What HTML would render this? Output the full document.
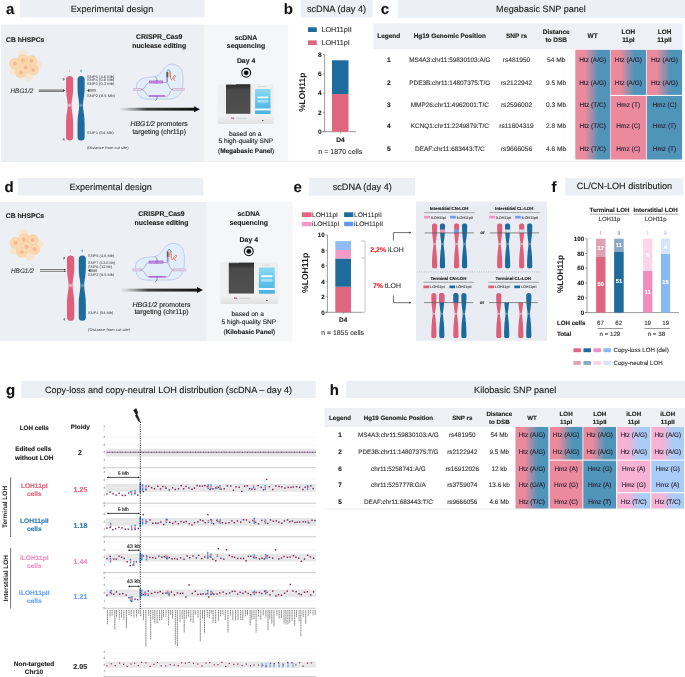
<!DOCTYPE html><html><head><meta charset="utf-8"><style>html,body{margin:0;padding:0;background:#fff;}body{width:685px;height:677px;overflow:hidden;font-family:"Liberation Sans", sans-serif;}svg{display:block;will-change:transform;}svg text{font-family:"Liberation Sans", sans-serif;}</style></head><body><svg width="685" height="677" viewBox="0 0 685 677" font-family='"Liberation Sans", sans-serif' text-rendering="geometricPrecision"><defs><linearGradient id="ga1" x1="0" x2="1" y1="0" y2="0"><stop offset="0" stop-color="#555" stop-opacity="0.05"/><stop offset="0.35" stop-color="#222" stop-opacity="0.85"/><stop offset="1" stop-color="#111"/></linearGradient><linearGradient id="mb1" x1="0" x2="0" y1="0" y2="1"><stop offset="0" stop-color="#eeeeee"/><stop offset="0.8" stop-color="#f1f1f1"/><stop offset="1" stop-color="#e0e0e0"/></linearGradient><linearGradient id="mt1" x1="0" x2="0" y1="0" y2="1"><stop offset="0" stop-color="#8ddaf4"/><stop offset="0.5" stop-color="#62c4ea"/><stop offset="1" stop-color="#48b2e0"/></linearGradient><linearGradient id="ms1" x1="0" x2="0" y1="0" y2="1"><stop offset="0" stop-color="#2c2c2c"/><stop offset="0.12" stop-color="#3a3a3a"/><stop offset="0.2" stop-color="#4b4b4b"/><stop offset="1" stop-color="#4f4f4f"/></linearGradient><linearGradient id="gc" x1="0" x2="1" y1="0" y2="0"><stop offset="0.28" stop-color="#ea8a9c"/><stop offset="0.68" stop-color="#4f94b9"/></linearGradient><linearGradient id="ga2" x1="0" x2="1" y1="0" y2="0"><stop offset="0" stop-color="#555" stop-opacity="0.05"/><stop offset="0.35" stop-color="#222" stop-opacity="0.85"/><stop offset="1" stop-color="#111"/></linearGradient><linearGradient id="mb2" x1="0" x2="0" y1="0" y2="1"><stop offset="0" stop-color="#eeeeee"/><stop offset="0.8" stop-color="#f1f1f1"/><stop offset="1" stop-color="#e0e0e0"/></linearGradient><linearGradient id="mt2" x1="0" x2="0" y1="0" y2="1"><stop offset="0" stop-color="#8ddaf4"/><stop offset="0.5" stop-color="#62c4ea"/><stop offset="1" stop-color="#48b2e0"/></linearGradient><linearGradient id="ms2" x1="0" x2="0" y1="0" y2="1"><stop offset="0" stop-color="#2c2c2c"/><stop offset="0.12" stop-color="#3a3a3a"/><stop offset="0.2" stop-color="#4b4b4b"/><stop offset="1" stop-color="#4f4f4f"/></linearGradient><clipPath id="cc1"><path d="M432.0,225.8 A2.6,2.6 0 0 1 437.20000000000005,225.8 C437.20000000000005,236.72 435.744,241.504 435.744,244.0 C435.744,246.952 437.20000000000005,252.61 437.20000000000005,266.0 A2.6,2.6 0 0 1 432.0,266.0 C432.0,252.61 433.456,246.952 433.456,244.0 C433.456,241.504 432.0,236.72 432.0,225.8 Z"/></clipPath><clipPath id="cc2"><path d="M439.9,225.8 A2.6,2.6 0 0 1 445.1,225.8 C445.1,236.72 443.644,241.504 443.644,244.0 C443.644,246.952 445.1,252.61 445.1,266.0 A2.6,2.6 0 0 1 439.9,266.0 C439.9,252.61 441.356,246.952 441.356,244.0 C441.356,241.504 439.9,236.72 439.9,225.8 Z"/></clipPath><clipPath id="cc3"><path d="M454.0,225.8 A2.6,2.6 0 0 1 459.20000000000005,225.8 C459.20000000000005,236.72 457.744,241.504 457.744,244.0 C457.744,246.952 459.20000000000005,252.61 459.20000000000005,266.0 A2.6,2.6 0 0 1 454.0,266.0 C454.0,252.61 455.456,246.952 455.456,244.0 C455.456,241.504 454.0,236.72 454.0,225.8 Z"/></clipPath><clipPath id="cc4"><path d="M462.0,225.8 A2.6,2.6 0 0 1 467.20000000000005,225.8 C467.20000000000005,236.72 465.744,241.504 465.744,244.0 C465.744,246.952 467.20000000000005,252.61 467.20000000000005,266.0 A2.6,2.6 0 0 1 462.0,266.0 C462.0,252.61 463.456,246.952 463.456,244.0 C463.456,241.504 462.0,236.72 462.0,225.8 Z"/></clipPath><clipPath id="cc5"><path d="M497.09999999999997,225.8 A2.6,2.6 0 0 1 502.3,225.8 C502.3,236.72 500.844,241.504 500.844,244.0 C500.844,246.952 502.3,252.61 502.3,266.0 A2.6,2.6 0 0 1 497.09999999999997,266.0 C497.09999999999997,252.61 498.556,246.952 498.556,244.0 C498.556,241.504 497.09999999999997,236.72 497.09999999999997,225.8 Z"/></clipPath><clipPath id="cc6"><path d="M504.99999999999994,225.8 A2.6,2.6 0 0 1 510.2,225.8 C510.2,236.72 508.74399999999997,241.504 508.74399999999997,244.0 C508.74399999999997,246.952 510.2,252.61 510.2,266.0 A2.6,2.6 0 0 1 504.99999999999994,266.0 C504.99999999999994,252.61 506.45599999999996,246.952 506.45599999999996,244.0 C506.45599999999996,241.504 504.99999999999994,236.72 504.99999999999994,225.8 Z"/></clipPath><clipPath id="cc7"><path d="M519.1,225.8 A2.6,2.6 0 0 1 524.3000000000001,225.8 C524.3000000000001,236.72 522.844,241.504 522.844,244.0 C522.844,246.952 524.3000000000001,252.61 524.3000000000001,266.0 A2.6,2.6 0 0 1 519.1,266.0 C519.1,252.61 520.556,246.952 520.556,244.0 C520.556,241.504 519.1,236.72 519.1,225.8 Z"/></clipPath><clipPath id="cc8"><path d="M527.1,225.8 A2.6,2.6 0 0 1 532.3000000000001,225.8 C532.3000000000001,236.72 530.844,241.504 530.844,244.0 C530.844,246.952 532.3000000000001,252.61 532.3000000000001,266.0 A2.6,2.6 0 0 1 527.1,266.0 C527.1,252.61 528.556,246.952 528.556,244.0 C528.556,241.504 527.1,236.72 527.1,225.8 Z"/></clipPath><clipPath id="cc9"><path d="M431.29999999999995,295.5 A2.6,2.6 0 0 1 436.5,295.5 C436.5,306.41999999999996 435.044,311.204 435.044,313.7 C435.044,316.652 436.5,322.31 436.5,335.7 A2.6,2.6 0 0 1 431.29999999999995,335.7 C431.29999999999995,322.31 432.756,316.652 432.756,313.7 C432.756,311.204 431.29999999999995,306.41999999999996 431.29999999999995,295.5 Z"/></clipPath><clipPath id="cc10"><path d="M439.19999999999993,295.5 A2.6,2.6 0 0 1 444.4,295.5 C444.4,306.41999999999996 442.94399999999996,311.204 442.94399999999996,313.7 C442.94399999999996,316.652 444.4,322.31 444.4,335.7 A2.6,2.6 0 0 1 439.19999999999993,335.7 C439.19999999999993,322.31 440.65599999999995,316.652 440.65599999999995,313.7 C440.65599999999995,311.204 439.19999999999993,306.41999999999996 439.19999999999993,295.5 Z"/></clipPath><clipPath id="cc11"><path d="M453.29999999999995,295.5 A2.6,2.6 0 0 1 458.5,295.5 C458.5,306.41999999999996 457.044,311.204 457.044,313.7 C457.044,316.652 458.5,322.31 458.5,335.7 A2.6,2.6 0 0 1 453.29999999999995,335.7 C453.29999999999995,322.31 454.756,316.652 454.756,313.7 C454.756,311.204 453.29999999999995,306.41999999999996 453.29999999999995,295.5 Z"/></clipPath><clipPath id="cc12"><path d="M461.29999999999995,295.5 A2.6,2.6 0 0 1 466.5,295.5 C466.5,306.41999999999996 465.044,311.204 465.044,313.7 C465.044,316.652 466.5,322.31 466.5,335.7 A2.6,2.6 0 0 1 461.29999999999995,335.7 C461.29999999999995,322.31 462.756,316.652 462.756,313.7 C462.756,311.204 461.29999999999995,306.41999999999996 461.29999999999995,295.5 Z"/></clipPath><clipPath id="cc13"><path d="M496.2,295.5 A2.6,2.6 0 0 1 501.40000000000003,295.5 C501.40000000000003,306.41999999999996 499.944,311.204 499.944,313.7 C499.944,316.652 501.40000000000003,322.31 501.40000000000003,335.7 A2.6,2.6 0 0 1 496.2,335.7 C496.2,322.31 497.656,316.652 497.656,313.7 C497.656,311.204 496.2,306.41999999999996 496.2,295.5 Z"/></clipPath><clipPath id="cc14"><path d="M504.09999999999997,295.5 A2.6,2.6 0 0 1 509.3,295.5 C509.3,306.41999999999996 507.844,311.204 507.844,313.7 C507.844,316.652 509.3,322.31 509.3,335.7 A2.6,2.6 0 0 1 504.09999999999997,335.7 C504.09999999999997,322.31 505.556,316.652 505.556,313.7 C505.556,311.204 504.09999999999997,306.41999999999996 504.09999999999997,295.5 Z"/></clipPath><clipPath id="cc15"><path d="M518.1999999999999,295.5 A2.6,2.6 0 0 1 523.4,295.5 C523.4,306.41999999999996 521.944,311.204 521.944,313.7 C521.944,316.652 523.4,322.31 523.4,335.7 A2.6,2.6 0 0 1 518.1999999999999,335.7 C518.1999999999999,322.31 519.656,316.652 519.656,313.7 C519.656,311.204 518.1999999999999,306.41999999999996 518.1999999999999,295.5 Z"/></clipPath><clipPath id="cc16"><path d="M526.1999999999999,295.5 A2.6,2.6 0 0 1 531.4,295.5 C531.4,306.41999999999996 529.944,311.204 529.944,313.7 C529.944,316.652 531.4,322.31 531.4,335.7 A2.6,2.6 0 0 1 526.1999999999999,335.7 C526.1999999999999,322.31 527.656,316.652 527.656,313.7 C527.656,311.204 526.1999999999999,306.41999999999996 526.1999999999999,295.5 Z"/></clipPath><linearGradient id="gh" x1="0" x2="1" y1="0" y2="0"><stop offset="0.3" stop-color="#f8b2d4"/><stop offset="0.68" stop-color="#a9cdf6"/></linearGradient></defs><text x="6" y="14" font-size="15" font-weight="bold" text-anchor="start" fill="#111" stroke="#111" stroke-width="0.12" >a</text>
<rect x="20" y="0" width="184.5" height="17.5" fill="#eceff4" />
<text x="112" y="12" font-size="9.1" font-weight="normal" text-anchor="middle" fill="#1c1c1c" stroke="#1c1c1c" stroke-width="0.12" >Experimental design</text>
<rect x="1" y="24.5" width="203" height="137" fill="#eceff4" />
<rect x="204" y="24.5" width="84.4" height="136" fill="#f5f6f8" />
<text x="6.1" y="42.2" font-size="6.75" font-weight="bold" text-anchor="start" fill="#1c1c1c" stroke="#1c1c1c" stroke-width="0.12" >CB hHSPCs</text>
<circle cx="22.7" cy="54.9" r="5.0" fill="#f6e6d0"/>
<circle cx="37.8" cy="64.8" r="4.3" fill="#f6e6d0"/>
<circle cx="13.9" cy="71.1" r="4.4" fill="#f6e6d0"/>
<circle cx="28.3" cy="76.2" r="4.8" fill="#f6e6d0"/>
<circle cx="14.9" cy="63.599999999999994" r="5.3" fill="#fbd8ad" stroke="#f3c898" stroke-width="0.5"/>
<circle cx="14.9" cy="63.599999999999994" r="2.0" fill="#f4b996"/>
<circle cx="22.9" cy="60.199999999999996" r="5.3" fill="#fbd8ad" stroke="#f3c898" stroke-width="0.5"/>
<circle cx="22.9" cy="60.199999999999996" r="2.0" fill="#f4b996"/>
<circle cx="31.5" cy="60.8" r="5.2" fill="#fbd8ad" stroke="#f3c898" stroke-width="0.5"/>
<circle cx="31.5" cy="60.8" r="2.0" fill="#f4b996"/>
<circle cx="33.3" cy="69.89999999999999" r="5.1" fill="#fbd8ad" stroke="#f3c898" stroke-width="0.5"/>
<circle cx="33.3" cy="69.89999999999999" r="2.0" fill="#f4b996"/>
<circle cx="20.8" cy="72.5" r="5.2" fill="#fbd8ad" stroke="#f3c898" stroke-width="0.5"/>
<circle cx="20.8" cy="72.5" r="2.0" fill="#f4b996"/>
<circle cx="25.6" cy="67.5" r="5.3" fill="#fbd8ad" stroke="#f3c898" stroke-width="0.5"/>
<circle cx="25.6" cy="67.5" r="2.0" fill="#f4b996"/>
<text x="10.5" y="93.1" font-size="6.4" font-weight="normal" text-anchor="start" fill="#3a3a3a" stroke="#3a3a3a" stroke-width="0.12" font-style="italic" >HBG1/2</text>
<rect x="38.8" y="89.2" width="24.8" height="2.7" fill="#a2a2a2" />
<line x1="38.8" y1="91.3" x2="63.6" y2="91.3" stroke="#6a6a6a" stroke-width="0.9" />
<path d="M63.2,89.0 L65,90.5 L63.2,92.1 Z" fill="#333"/>
<path d="M66.05,79.55 A3.55,3.55 0 0 1 73.14999999999999,79.55 L73.14999999999999,87.096 C73.14999999999999,97.0532 71.517,99.7688 71.517,105.2 C71.517,111.0245 73.14999999999999,113.93675 73.14999999999999,124.61500000000001 L73.14999999999999,136.95 A3.55,3.55 0 0 1 66.05,136.95 L66.05,124.61500000000001 C66.05,113.93675 67.68299999999999,111.0245 67.68299999999999,105.2 C67.68299999999999,99.7688 66.05,97.0532 66.05,87.096 L66.05,79.55 Z" fill="#e0607c"/>
<circle cx="69.6" cy="105.2" r="1.704" fill="#f3a9b8"/>
<path d="M77.55,79.55 A3.55,3.55 0 0 1 84.64999999999999,79.55 L84.64999999999999,87.096 C84.64999999999999,97.0532 83.017,99.7688 83.017,105.2 C83.017,111.0245 84.64999999999999,113.93675 84.64999999999999,124.61500000000001 L84.64999999999999,136.95 A3.55,3.55 0 0 1 77.55,136.95 L77.55,124.61500000000001 C77.55,113.93675 79.18299999999999,111.0245 79.18299999999999,105.2 C79.18299999999999,99.7688 77.55,97.0532 77.55,87.096 L77.55,79.55 Z" fill="#1e6c9e"/>
<circle cx="81.1" cy="105.2" r="1.704" fill="#4f9cc8"/>
<text x="69.6" y="72" font-size="3.2" font-weight="normal" text-anchor="middle" fill="#e87a90" stroke="#e87a90" stroke-width="0.12" >I</text>
<text x="81.1" y="72" font-size="3.2" font-weight="normal" text-anchor="middle" fill="#4a90c0" stroke="#4a90c0" stroke-width="0.12" >II</text>
<text x="62.8" y="79.5" font-size="3" font-weight="normal" text-anchor="start" fill="#444" stroke="#444" stroke-width="0.12" >p</text>
<text x="62.8" y="139.5" font-size="3" font-weight="normal" text-anchor="start" fill="#444" stroke="#444" stroke-width="0.12" >q</text>
<text x="87" y="78.0" font-size="3.7" font-weight="normal" fill="#383838" textLength="27.5" lengthAdjust="spacingAndGlyphs">SNP5 (4.6 Mb)</text>
<text x="87" y="81.4" font-size="3.7" font-weight="normal" fill="#383838" textLength="27.5" lengthAdjust="spacingAndGlyphs">SNP4 (0.6 Mb)</text>
<text x="87" y="84.8" font-size="3.7" font-weight="normal" fill="#383838" textLength="27.5" lengthAdjust="spacingAndGlyphs">SNP3 (0.3 Mb)</text>
<path d="M96,89.8 L88.5,89.8 M96,91.0 L88.5,91.0" stroke="#666" stroke-width="0.7"/>
<path d="M89.2,88.9 L87.2,90.4 L89.2,91.9 Z" fill="#333"/>
<text x="87" y="96.8" font-size="3.7" font-weight="normal" fill="#383838" textLength="28" lengthAdjust="spacingAndGlyphs">SNP2 (9.5 Mb)</text>
<text x="87" y="133.8" font-size="3.7" font-weight="normal" fill="#383838" textLength="26.7" lengthAdjust="spacingAndGlyphs">SNP1 (54 Mb)</text>
<text x="87" y="149.3" font-size="3.7" font-weight="normal" fill="#383838" textLength="41.7" lengthAdjust="spacingAndGlyphs">(Distance from cut site)</text>
<text x="159.2" y="39" font-size="6.9" font-weight="bold" text-anchor="middle" fill="#1c1c1c" stroke="#1c1c1c" stroke-width="0.12" >CRISPR_Cas9</text>
<text x="159.2" y="48.2" font-size="6.9" font-weight="bold" text-anchor="middle" fill="#1c1c1c" stroke="#1c1c1c" stroke-width="0.12" >nuclease editing</text>
<path d="M136.50,88.00 C135.50,80.00 143.00,77.50 150.00,77.20 C157.00,77.00 160.00,75.00 163.00,70.00 C166.50,64.50 171.00,63.50 175.00,64.50 C181.00,66.00 183.50,72.00 183.00,80.00 C183.00,90.00 182.00,98.00 170.00,99.00 L148.00,99.20 C139.00,99.00 137.00,94.00 136.50,88.00 Z" fill="#e1edf9" stroke="#8ea8dc" stroke-width="0.45"/>
<rect x="133.2" y="88.0" width="8.5" height="2.8" fill="#d2bcd8"/>
<rect x="133.2" y="89.0" width="8.5" height="0.8" fill="#e6dbe9"/>
<rect x="172.5" y="88.0" width="12.3" height="2.8" fill="#d2bcd8"/>
<rect x="172.5" y="89.0" width="12.3" height="0.8" fill="#e6dbe9"/>
<path d="M141.00,89.40 C146.00,89.40 145.00,82.50 150.00,82.50 L166.00,82.50" fill="none" stroke="#9a72b8" stroke-width="0.5"/>
<path d="M141.00,89.40 C146.00,89.40 145.00,96.20 150.00,96.20 L166.00,96.20 C171.00,96.20 169.00,89.40 173.00,89.40" fill="none" stroke="#9a72b8" stroke-width="0.5"/>
<path d="M166.00,82.50 C169.00,82.50 168.50,89.40 173.00,89.40" fill="none" stroke="#9a72b8" stroke-width="0.5"/>
<rect x="149.0" y="80.6" width="14.0" height="2.8" fill="#a86ad8"/>
<rect x="150.0" y="81.6" width="12.0" height="0.8" fill="#cfa8ec"/>
<rect x="155.5" y="80.6" width="2.5" height="2.8" fill="#c070c8"/>
<rect x="149.0" y="95.2" width="16.0" height="1.5" fill="#a86ad8"/>
<rect x="162.0" y="95.3" width="3.0" height="1.2" fill="#e070d0"/>
<path d="M166.60,72.20 L168.50,69.60 L170.60,72.20" fill="#f4f8fc" stroke="#4a7fc0" stroke-width="0.80"/>
<rect x="166.30" y="72.00" width="1.80" height="5.20" fill="#5a5a5a"/>
<rect x="168.10" y="72.00" width="1.60" height="5.20" fill="#e8a896"/>
<rect x="166.40" y="77.00" width="1.60" height="5.50" fill="#a484e4"/>
<path d="M170.30,72.20 L170.60,78.50 C170.80,80.60 172.00,80.00 173.00,77.50 C173.80,75.60 175.80,74.60 175.60,76.40 C175.40,78.00 173.20,78.20 173.60,79.20 L174.80,80.60" fill="none" stroke="#e8734a" stroke-width="0.90" stroke-linecap="round"/>
<path d="M155.00,76.50 L157.00,79.00 L157.00,81.00" fill="none" stroke="#333" stroke-width="0.4"/>
<path d="M157.00,96.00 L157.00,99.00 L155.00,101.00" fill="none" stroke="#333" stroke-width="0.4"/>
<rect x="120" y="107.75" width="75" height="2.9" fill="url(#ga1)"/>
<path d="M194,106.2 L200,109.2 L194,112.2 Z" fill="#111"/>
<text x="159.1" y="125.6" font-size="6.85" font-weight="normal" text-anchor="middle" fill="#1c1c1c" stroke="#1c1c1c" stroke-width="0.12" ><tspan font-style="italic">HBG1/2</tspan> promoters</text>
<text x="159.2" y="134.1" font-size="6.85" font-weight="normal" text-anchor="middle" fill="#1c1c1c" stroke="#1c1c1c" stroke-width="0.12" >targeting (chr11p)</text>
<text x="246.0" y="39.5" font-size="6.9" font-weight="bold" text-anchor="middle" fill="#1c1c1c" stroke="#1c1c1c" stroke-width="0.12" >scDNA</text>
<text x="246.0" y="48.1" font-size="6.9" font-weight="bold" text-anchor="middle" fill="#1c1c1c" stroke="#1c1c1c" stroke-width="0.12" >sequencing</text>
<text x="246.1" y="62.8" font-size="6.9" font-weight="bold" text-anchor="middle" fill="#1c1c1c" stroke="#1c1c1c" stroke-width="0.12" >Day 4</text>
<circle cx="246.2" cy="72.8" r="4.4" fill="none" stroke="#111" stroke-width="1.1"/>
<circle cx="246.2" cy="72.8" r="2.4" fill="#111"/>
<rect x="217.7" y="84.2" width="56.1" height="39.7" rx="1.6" fill="url(#mb1)"/>
<rect x="226.0" y="84.2" width="24.400000000000006" height="29.599999999999994" fill="url(#ms1)"/>
<rect x="226.0" y="84.2" width="10.0" height="0.5" fill="#f4f4f4"/>
<rect x="255.1" y="88.9" width="15.400000000000006" height="25.19999999999999" rx="0.6" fill="url(#mt1)"/>
<rect x="257.2" y="96.4" width="11.199999999999989" height="1.7999999999999972" rx="0.8" fill="#f4fafd"/>
<rect x="257.2" y="100.0" width="11.199999999999989" height="2.4000000000000057" rx="0.8" fill="#a9e0f5"/>
<rect x="255.1" y="108.5" width="15.400000000000006" height="1.9000000000000057" fill="#f6fbfe"/>
<circle cx="231.9" cy="118.1" r="0.9" fill="#e0505e"/>
<circle cx="233.6" cy="118.4" r="0.8" fill="#4a90d0"/>
<rect x="236.3" y="117.9" width="11.0" height="0.7" fill="#c2c2c2"/>
<rect x="262.0" y="119.9" width="1.6" height="1.0" rx="0.4" fill="#444"/>
<circle cx="258.7" cy="86.6" r="0.35" fill="#50b070"/>
<rect x="259.5" y="86.3" width="6.0" height="0.5" fill="#c8c8c8"/>
<text x="245.2" y="135.7" font-size="6.6" font-weight="normal" text-anchor="middle" fill="#1c1c1c" stroke="#1c1c1c" stroke-width="0.12" >based on a</text>
<text x="245.8" y="143.4" font-size="6.6" font-weight="normal" text-anchor="middle" fill="#1c1c1c" stroke="#1c1c1c" stroke-width="0.12" >5 high-quality SNP</text>
<text x="246.1" y="153.3" font-size="6.45" font-weight="normal" text-anchor="middle" fill="#1c1c1c" stroke="#1c1c1c" stroke-width="0.12" >(<tspan font-weight="bold">Megabasic Panel</tspan>)</text>
<text x="283.8" y="14" font-size="15" font-weight="bold" text-anchor="start" fill="#111" stroke="#111" stroke-width="0.12" >b</text>
<rect x="300.5" y="0" width="72" height="17.5" fill="#eceff4" />
<text x="336.5" y="11.8" font-size="9.2" font-weight="normal" text-anchor="middle" fill="#1c1c1c" stroke="#1c1c1c" stroke-width="0.12" >scDNA (day 4)</text>
<line x1="0" y1="161.3" x2="685" y2="161.3" stroke="#ebebeb" stroke-width="0.9" />
<rect x="308" y="27.3" width="8.8" height="4.7" fill="#1f6b9c" />
<text x="321.5" y="32" font-size="7.2" font-weight="normal" text-anchor="start" fill="#333" stroke="#333" stroke-width="0.12" >LOH11pII</text>
<rect x="308" y="40.4" width="8.8" height="4.7" fill="#e0657f" />
<text x="321.5" y="45.1" font-size="7.2" font-weight="normal" text-anchor="start" fill="#333" stroke="#333" stroke-width="0.12" >LOH11pI</text>
<line x1="324.6" y1="54.6" x2="324.6" y2="131.7" stroke="#555" stroke-width="0.6" />
<line x1="322.3" y1="131.7" x2="356" y2="131.7" stroke="#555" stroke-width="0.6" />
<line x1="322.8" y1="131.7" x2="324.6" y2="131.7" stroke="#555" stroke-width="0.5" />
<text x="321.5" y="134.0" font-size="6.5" font-weight="bold" text-anchor="end" fill="#222" stroke="#222" stroke-width="0.12" >0</text>
<line x1="322.8" y1="112.39999999999999" x2="324.6" y2="112.39999999999999" stroke="#555" stroke-width="0.5" />
<text x="321.5" y="114.69999999999999" font-size="6.5" font-weight="bold" text-anchor="end" fill="#222" stroke="#222" stroke-width="0.12" >2</text>
<line x1="322.8" y1="93.1" x2="324.6" y2="93.1" stroke="#555" stroke-width="0.5" />
<text x="321.5" y="95.39999999999999" font-size="6.5" font-weight="bold" text-anchor="end" fill="#222" stroke="#222" stroke-width="0.12" >4</text>
<line x1="322.8" y1="73.79999999999998" x2="324.6" y2="73.79999999999998" stroke="#555" stroke-width="0.5" />
<text x="321.5" y="76.09999999999998" font-size="6.5" font-weight="bold" text-anchor="end" fill="#222" stroke="#222" stroke-width="0.12" >6</text>
<line x1="322.8" y1="54.499999999999986" x2="324.6" y2="54.499999999999986" stroke="#555" stroke-width="0.5" />
<text x="321.5" y="56.79999999999998" font-size="6.5" font-weight="bold" text-anchor="end" fill="#222" stroke="#222" stroke-width="0.12" >8</text>
<line x1="340.3" y1="131.7" x2="340.3" y2="133.5" stroke="#555" stroke-width="0.5" />
<rect x="332" y="94.065" width="16.5" height="37.635" fill="#e0657f" />
<rect x="332" y="60.28999999999998" width="16.5" height="33.775" fill="#1f6b9c" />
<text x="340.4" y="142" font-size="6.6" font-weight="bold" text-anchor="middle" fill="#222" stroke="#222" stroke-width="0.12" >D4</text>
<text x="340.3" y="153.8" font-size="7.1" font-weight="normal" text-anchor="middle" fill="#333" stroke="#333" stroke-width="0.12" >n = 1870 cells</text>
<text transform="translate(304.5,92.3) rotate(-90)" font-size="8.4" font-weight="bold" text-anchor="middle" fill="#222">%LOH11p</text>
<text x="380.8" y="14" font-size="15" font-weight="bold" text-anchor="start" fill="#111" stroke="#111" stroke-width="0.12" >c</text>
<rect x="397.8" y="0" width="287.2" height="18" fill="#eceff4" />
<text x="541" y="12" font-size="9.1" font-weight="normal" text-anchor="middle" fill="#1c1c1c" stroke="#1c1c1c" stroke-width="0.12" >Megabasic SNP panel</text>
<rect x="373.3" y="23.4" width="309.5" height="25.8" fill="#eef0f5" />
<text x="388.8" y="37.8" font-size="6.45" font-weight="bold" text-anchor="middle" fill="#222" stroke="#222" stroke-width="0.12" >Legend</text>
<text x="449.8" y="37.8" font-size="6.45" font-weight="bold" text-anchor="middle" fill="#222" stroke="#222" stroke-width="0.12" >Hg19 Genomic Position</text>
<text x="516.5" y="37.8" font-size="6.45" font-weight="bold" text-anchor="middle" fill="#222" stroke="#222" stroke-width="0.12" >SNP rs</text>
<text x="556.2" y="34.2" font-size="6.45" font-weight="bold" text-anchor="middle" fill="#222" stroke="#222" stroke-width="0.12" >Distance</text>
<text x="556.2" y="41.9" font-size="6.45" font-weight="bold" text-anchor="middle" fill="#222" stroke="#222" stroke-width="0.12" >to DSB</text>
<text x="592.6" y="38" font-size="6.45" font-weight="bold" text-anchor="middle" fill="#222" stroke="#222" stroke-width="0.12" >WT</text>
<text x="628.4" y="34.2" font-size="6.45" font-weight="bold" text-anchor="middle" fill="#222" stroke="#222" stroke-width="0.12" >LOH</text>
<text x="628.4" y="41.9" font-size="6.45" font-weight="bold" text-anchor="middle" fill="#222" stroke="#222" stroke-width="0.12" >11pI</text>
<text x="664.5" y="34.2" font-size="6.45" font-weight="bold" text-anchor="middle" fill="#222" stroke="#222" stroke-width="0.12" >LOH</text>
<text x="664.5" y="41.9" font-size="6.45" font-weight="bold" text-anchor="middle" fill="#222" stroke="#222" stroke-width="0.12" >11pII</text>
<rect x="575.3" y="49.8" width="34.7" height="109.7" fill="url(#gc)" />
<rect x="610.5" y="49.8" width="35.7" height="45.10000000000001" fill="url(#gc)" />
<rect x="610.5" y="95.9" width="35.7" height="63.599999999999994" fill="#ea8a9c" />
<rect x="646.9" y="49.8" width="35.2" height="45.10000000000001" fill="url(#gc)" />
<rect x="646.9" y="95.9" width="35.2" height="63.599999999999994" fill="#4f94b9" />
<text x="388.8" y="62.3" font-size="6.6" font-weight="bold" text-anchor="middle" fill="#222" stroke="#222" stroke-width="0.12" >1</text>
<text x="449.8" y="62.3" font-size="6.4" font-weight="normal" text-anchor="middle" fill="#333" stroke="#333" stroke-width="0.12" >MS4A3:chr11:59830103:A/G</text>
<text x="516.5" y="62.3" font-size="6.6" font-weight="normal" text-anchor="middle" fill="#333" stroke="#333" stroke-width="0.12" >rs481950</text>
<text x="556.2" y="62.3" font-size="6.6" font-weight="normal" text-anchor="middle" fill="#333" stroke="#333" stroke-width="0.12" >54 Mb</text>
<text x="592.7" y="62.3" font-size="6.5" font-weight="normal" text-anchor="middle" fill="#2a2030" stroke="#2a2030" stroke-width="0.12" >Htz (A/G)</text>
<text x="628.4" y="62.3" font-size="6.5" font-weight="normal" text-anchor="middle" fill="#2a2030" stroke="#2a2030" stroke-width="0.12" >Htz (A/G)</text>
<text x="664.5" y="62.3" font-size="6.5" font-weight="normal" text-anchor="middle" fill="#2a2030" stroke="#2a2030" stroke-width="0.12" >Htz (A/G)</text>
<text x="388.8" y="84.7" font-size="6.6" font-weight="bold" text-anchor="middle" fill="#222" stroke="#222" stroke-width="0.12" >2</text>
<text x="449.8" y="84.7" font-size="6.4" font-weight="normal" text-anchor="middle" fill="#333" stroke="#333" stroke-width="0.12" >PDE3B:chr11:14807375:T/G</text>
<text x="516.5" y="84.7" font-size="6.6" font-weight="normal" text-anchor="middle" fill="#333" stroke="#333" stroke-width="0.12" >rs2122942</text>
<text x="556.2" y="84.7" font-size="6.6" font-weight="normal" text-anchor="middle" fill="#333" stroke="#333" stroke-width="0.12" >9.5 Mb</text>
<text x="592.7" y="84.7" font-size="6.5" font-weight="normal" text-anchor="middle" fill="#2a2030" stroke="#2a2030" stroke-width="0.12" >Htz (A/G)</text>
<text x="628.4" y="84.7" font-size="6.5" font-weight="normal" text-anchor="middle" fill="#2a2030" stroke="#2a2030" stroke-width="0.12" >Htz (A/G)</text>
<text x="664.5" y="84.7" font-size="6.5" font-weight="normal" text-anchor="middle" fill="#2a2030" stroke="#2a2030" stroke-width="0.12" >Htz (A/G)</text>
<text x="388.8" y="106.6" font-size="6.6" font-weight="bold" text-anchor="middle" fill="#222" stroke="#222" stroke-width="0.12" >3</text>
<text x="449.8" y="106.6" font-size="6.4" font-weight="normal" text-anchor="middle" fill="#333" stroke="#333" stroke-width="0.12" >MMP26:chr11:4962001:T/C</text>
<text x="516.5" y="106.6" font-size="6.6" font-weight="normal" text-anchor="middle" fill="#333" stroke="#333" stroke-width="0.12" >rs2596002</text>
<text x="556.2" y="106.6" font-size="6.6" font-weight="normal" text-anchor="middle" fill="#333" stroke="#333" stroke-width="0.12" >0.3 Mb</text>
<text x="592.7" y="106.6" font-size="6.5" font-weight="normal" text-anchor="middle" fill="#2a2030" stroke="#2a2030" stroke-width="0.12" >Htz (T/C)</text>
<text x="628.4" y="106.6" font-size="6.5" font-weight="normal" text-anchor="middle" fill="#2a2030" stroke="#2a2030" stroke-width="0.12" >Hmz (T)</text>
<text x="664.5" y="106.6" font-size="6.5" font-weight="normal" text-anchor="middle" fill="#2a2030" stroke="#2a2030" stroke-width="0.12" >Hmz (C)</text>
<text x="388.8" y="128.1" font-size="6.6" font-weight="bold" text-anchor="middle" fill="#222" stroke="#222" stroke-width="0.12" >4</text>
<text x="449.8" y="128.1" font-size="6.4" font-weight="normal" text-anchor="middle" fill="#333" stroke="#333" stroke-width="0.12" >KCNQ1:chr11:2249879:T/C</text>
<text x="516.5" y="128.1" font-size="6.6" font-weight="normal" text-anchor="middle" fill="#333" stroke="#333" stroke-width="0.12" >rs11604319</text>
<text x="556.2" y="128.1" font-size="6.6" font-weight="normal" text-anchor="middle" fill="#333" stroke="#333" stroke-width="0.12" >2.8 Mb</text>
<text x="592.7" y="128.1" font-size="6.5" font-weight="normal" text-anchor="middle" fill="#2a2030" stroke="#2a2030" stroke-width="0.12" >Htz (T/C)</text>
<text x="628.4" y="128.1" font-size="6.5" font-weight="normal" text-anchor="middle" fill="#2a2030" stroke="#2a2030" stroke-width="0.12" >Hmz (C)</text>
<text x="664.5" y="128.1" font-size="6.5" font-weight="normal" text-anchor="middle" fill="#2a2030" stroke="#2a2030" stroke-width="0.12" >Hmz (T)</text>
<text x="388.8" y="150.5" font-size="6.6" font-weight="bold" text-anchor="middle" fill="#222" stroke="#222" stroke-width="0.12" >5</text>
<text x="449.8" y="150.5" font-size="6.4" font-weight="normal" text-anchor="middle" fill="#333" stroke="#333" stroke-width="0.12" >DEAF:chr11:683443:T/C</text>
<text x="516.5" y="150.5" font-size="6.6" font-weight="normal" text-anchor="middle" fill="#333" stroke="#333" stroke-width="0.12" >rs9666056</text>
<text x="556.2" y="150.5" font-size="6.6" font-weight="normal" text-anchor="middle" fill="#333" stroke="#333" stroke-width="0.12" >4.6 Mb</text>
<text x="592.7" y="150.5" font-size="6.5" font-weight="normal" text-anchor="middle" fill="#2a2030" stroke="#2a2030" stroke-width="0.12" >Htz (T/C)</text>
<text x="628.4" y="150.5" font-size="6.5" font-weight="normal" text-anchor="middle" fill="#2a2030" stroke="#2a2030" stroke-width="0.12" >Hmz (C)</text>
<text x="664.5" y="150.5" font-size="6.5" font-weight="normal" text-anchor="middle" fill="#2a2030" stroke="#2a2030" stroke-width="0.12" >Hmz (T)</text>
<text x="4.4" y="192.1" font-size="15" font-weight="bold" text-anchor="start" fill="#111" stroke="#111" stroke-width="0.12" >d</text>
<rect x="18.3" y="178" width="185" height="17.6" fill="#eceff4" />
<text x="110.6" y="189.5" font-size="9.1" font-weight="normal" text-anchor="middle" fill="#1c1c1c" stroke="#1c1c1c" stroke-width="0.12" >Experimental design</text>
<rect x="0" y="201.9" width="206.3" height="139.3" fill="#eceff4" />
<rect x="206.3" y="201.9" width="86.3" height="139.3" fill="#f5f6f8" />
<text x="5.8" y="218.4" font-size="6.75" font-weight="bold" text-anchor="start" fill="#1c1c1c" stroke="#1c1c1c" stroke-width="0.12" >CB hHSPCs</text>
<circle cx="23.616" cy="233.888" r="5.15" fill="#f6e6d0"/>
<circle cx="39.169" cy="244.085" r="4.429" fill="#f6e6d0"/>
<circle cx="14.552" cy="250.57399999999998" r="4.532000000000001" fill="#f6e6d0"/>
<circle cx="29.384" cy="255.827" r="4.944" fill="#f6e6d0"/>
<circle cx="15.582" cy="242.849" r="5.459" fill="#fbd8ad" stroke="#f3c898" stroke-width="0.5"/>
<circle cx="15.582" cy="242.849" r="2.06" fill="#f4b996"/>
<circle cx="23.822" cy="239.34699999999998" r="5.459" fill="#fbd8ad" stroke="#f3c898" stroke-width="0.5"/>
<circle cx="23.822" cy="239.34699999999998" r="2.06" fill="#f4b996"/>
<circle cx="32.68" cy="239.965" r="5.356000000000001" fill="#fbd8ad" stroke="#f3c898" stroke-width="0.5"/>
<circle cx="32.68" cy="239.965" r="2.06" fill="#f4b996"/>
<circle cx="34.534" cy="249.338" r="5.253" fill="#fbd8ad" stroke="#f3c898" stroke-width="0.5"/>
<circle cx="34.534" cy="249.338" r="2.06" fill="#f4b996"/>
<circle cx="21.659" cy="252.016" r="5.356000000000001" fill="#fbd8ad" stroke="#f3c898" stroke-width="0.5"/>
<circle cx="21.659" cy="252.016" r="2.06" fill="#f4b996"/>
<circle cx="26.603" cy="246.86599999999999" r="5.459" fill="#fbd8ad" stroke="#f3c898" stroke-width="0.5"/>
<circle cx="26.603" cy="246.86599999999999" r="2.06" fill="#f4b996"/>
<text x="11" y="272.9" font-size="6.4" font-weight="normal" text-anchor="start" fill="#3a3a3a" stroke="#3a3a3a" stroke-width="0.12" font-style="italic" >HBG1/2</text>
<rect x="39.5" y="268.4" width="26.5" height="3.9" fill="#f4f6f9" />
<path d="M40,269.5 L65,269.5 M40,271.3 L65,271.3" stroke="#333" stroke-width="0.65"/>
<path d="M64.3,268.7 L66.2,269.5 L64.3,270.3 Z M64.3,270.5 L66.2,271.3 L64.3,272.1 Z" fill="#222"/>
<path d="M66.94999999999999,259.15 A3.65,3.65 0 0 1 74.25,259.15 L74.25,266.86199999999997 C74.25,277.05789999999996 72.571,279.8386 72.571,285.4 C72.571,291.241 74.25,294.1615 74.25,304.87 L74.25,317.15000000000003 A3.65,3.65 0 0 1 66.94999999999999,317.15000000000003 L66.94999999999999,304.87 C66.94999999999999,294.1615 68.62899999999999,291.241 68.62899999999999,285.4 C68.62899999999999,279.8386 66.94999999999999,277.05789999999996 66.94999999999999,266.86199999999997 L66.94999999999999,259.15 Z" fill="#e0607c"/>
<circle cx="70.6" cy="285.4" r="1.752" fill="#f3a9b8"/>
<path d="M78.75,259.05 A3.55,3.55 0 0 1 85.85,259.05 L85.85,266.86199999999997 C85.85,277.05789999999996 84.217,279.8386 84.217,285.4 C84.217,291.241 85.85,294.1615 85.85,304.87 L85.85,317.25 A3.55,3.55 0 0 1 78.75,317.25 L78.75,304.87 C78.75,294.1615 80.383,291.241 80.383,285.4 C80.383,279.8386 78.75,277.05789999999996 78.75,266.86199999999997 L78.75,259.05 Z" fill="#1e6c9e"/>
<circle cx="82.3" cy="285.4" r="1.704" fill="#4f9cc8"/>
<text x="70.6" y="251.5" font-size="3.2" font-weight="normal" text-anchor="middle" fill="#e87a90" stroke="#e87a90" stroke-width="0.12" >I</text>
<text x="82.3" y="251.5" font-size="3.2" font-weight="normal" text-anchor="middle" fill="#4a90c0" stroke="#4a90c0" stroke-width="0.12" >II</text>
<text x="63.5" y="258.5" font-size="3" font-weight="normal" text-anchor="start" fill="#444" stroke="#444" stroke-width="0.12" >p</text>
<text x="63.5" y="320" font-size="3" font-weight="normal" text-anchor="start" fill="#444" stroke="#444" stroke-width="0.12" >q</text>
<text x="88.1" y="256.7" font-size="3.7" font-weight="normal" fill="#383838" textLength="26.3" lengthAdjust="spacingAndGlyphs">SNP5 (4.6 Mb)</text>
<text x="88.1" y="264.4" font-size="3.7" font-weight="normal" fill="#383838" textLength="26.9" lengthAdjust="spacingAndGlyphs">SNP7 (13.6 kb)</text>
<text x="88.1" y="268.4" font-size="3.7" font-weight="normal" fill="#383838" textLength="23.9" lengthAdjust="spacingAndGlyphs">SNP6 (12 kb)</text>
<path d="M97,270.0 L89.5,270.0 M97,271.2 L89.5,271.2" stroke="#333" stroke-width="0.55"/>
<path d="M90.2,269.1 L88.2,270.6 L90.2,272.1 Z" fill="#222"/>
<text x="88.1" y="276.1" font-size="3.7" font-weight="normal" fill="#383838" textLength="26.3" lengthAdjust="spacingAndGlyphs">SNP2 (9.5 Mb)</text>
<text x="88.1" y="314.4" font-size="3.7" font-weight="normal" fill="#383838" textLength="25.3" lengthAdjust="spacingAndGlyphs">SNP1 (54 Mb)</text>
<text x="88.1" y="330.5" font-size="3.7" font-weight="normal" fill="#383838" textLength="42.1" lengthAdjust="spacingAndGlyphs">(Distance from cut site)</text>
<text x="161.5" y="216" font-size="6.9" font-weight="bold" text-anchor="middle" fill="#1c1c1c" stroke="#1c1c1c" stroke-width="0.12" >CRISPR_Cas9</text>
<text x="161.5" y="225.1" font-size="6.9" font-weight="bold" text-anchor="middle" fill="#1c1c1c" stroke="#1c1c1c" stroke-width="0.12" >nuclease editing</text>
<path d="M135.52,268.40 C134.47,260.00 142.35,257.38 149.70,257.06 C157.05,256.85 160.20,254.75 163.35,249.50 C167.02,243.72 171.75,242.68 175.95,243.72 C182.25,245.30 184.88,251.60 184.35,260.00 C184.35,270.50 183.30,278.90 170.70,279.95 L147.60,280.16 C138.15,279.95 136.05,274.70 135.52,268.40 Z" fill="#e1edf9" stroke="#8ea8dc" stroke-width="0.45"/>
<rect x="132.05999999999997" y="268.4" width="8.925" height="2.94" fill="#d2bcd8"/>
<rect x="132.05999999999997" y="269.45" width="8.925" height="0.8400000000000001" fill="#e6dbe9"/>
<rect x="173.325" y="268.4" width="12.915000000000001" height="2.94" fill="#d2bcd8"/>
<rect x="173.325" y="269.45" width="12.915000000000001" height="0.8400000000000001" fill="#e6dbe9"/>
<path d="M140.25,269.87 C145.50,269.87 144.45,262.62 149.70,262.62 L166.50,262.62" fill="none" stroke="#9a72b8" stroke-width="0.525"/>
<path d="M140.25,269.87 C145.50,269.87 144.45,277.01 149.70,277.01 L166.50,277.01 C171.75,277.01 169.65,269.87 173.85,269.87" fill="none" stroke="#9a72b8" stroke-width="0.525"/>
<path d="M166.50,262.62 C169.65,262.62 169.12,269.87 173.85,269.87" fill="none" stroke="#9a72b8" stroke-width="0.525"/>
<rect x="148.64999999999998" y="260.63" width="14.700000000000001" height="2.94" fill="#a86ad8"/>
<rect x="149.7" y="261.68" width="12.600000000000001" height="0.8400000000000001" fill="#cfa8ec"/>
<rect x="155.475" y="260.63" width="2.625" height="2.94" fill="#c070c8"/>
<rect x="148.64999999999998" y="275.96000000000004" width="16.8" height="1.5750000000000002" fill="#a86ad8"/>
<rect x="162.29999999999998" y="276.065" width="3.1500000000000004" height="1.26" fill="#e070d0"/>
<path d="M167.13,251.81 L169.12,249.08 L171.33,251.81" fill="#f4f8fc" stroke="#4a7fc0" stroke-width="0.84"/>
<rect x="166.81" y="251.60" width="1.89" height="5.46" fill="#5a5a5a"/>
<rect x="168.70" y="251.60" width="1.68" height="5.46" fill="#e8a896"/>
<rect x="166.92" y="256.85" width="1.68" height="5.78" fill="#a484e4"/>
<path d="M171.01,251.81 L171.33,258.43 C171.54,260.63 172.80,260.00 173.85,257.38 C174.69,255.38 176.79,254.33 176.58,256.22 C176.37,257.90 174.06,258.11 174.48,259.16 L175.74,260.63" fill="none" stroke="#e8734a" stroke-width="0.95" stroke-linecap="round"/>
<path d="M154.95,256.32 L157.05,258.95 L157.05,261.05" fill="none" stroke="#333" stroke-width="0.42000000000000004"/>
<path d="M157.05,276.80 L157.05,279.95 L154.95,282.05" fill="none" stroke="#333" stroke-width="0.42000000000000004"/>
<rect x="121" y="288.65000000000003" width="77" height="2.9" fill="url(#ga2)"/>
<path d="M197,287.1 L203,290.1 L197,293.1 Z" fill="#111"/>
<text x="161.5" y="306.7" font-size="6.95" font-weight="normal" text-anchor="middle" fill="#1c1c1c" stroke="#1c1c1c" stroke-width="0.12" ><tspan font-style="italic">HBG1/2</tspan> promoters</text>
<text x="161.5" y="314.4" font-size="6.95" font-weight="normal" text-anchor="middle" fill="#1c1c1c" stroke="#1c1c1c" stroke-width="0.12" >targeting (chr11p)</text>
<text x="248.8" y="216" font-size="6.9" font-weight="bold" text-anchor="middle" fill="#1c1c1c" stroke="#1c1c1c" stroke-width="0.12" >scDNA</text>
<text x="248.8" y="224.6" font-size="6.9" font-weight="bold" text-anchor="middle" fill="#1c1c1c" stroke="#1c1c1c" stroke-width="0.12" >sequencing</text>
<text x="248.8" y="241.6" font-size="6.9" font-weight="bold" text-anchor="middle" fill="#1c1c1c" stroke="#1c1c1c" stroke-width="0.12" >Day 4</text>
<circle cx="248.8" cy="251.3" r="4.4" fill="none" stroke="#111" stroke-width="1.1"/>
<circle cx="248.8" cy="251.3" r="2.4" fill="#111"/>
<rect x="220.2" y="262.6" width="58.0" height="41.5" rx="1.6541889483065955" fill="url(#mb2)"/>
<rect x="228.78110516934046" y="262.6" width="25.226381461675572" height="30.942065491183882" fill="url(#ms2)"/>
<rect x="228.78110516934046" y="262.6" width="10.338680926916226" height="0.5226700251889168" fill="#f4f4f4"/>
<rect x="258.8666666666667" y="267.5130982367758" width="15.921568627450995" height="26.34256926952139" rx="0.6" fill="url(#mt2)"/>
<rect x="261.03778966131904" y="275.3531486146096" width="11.579322638146209" height="1.8816120906801075" rx="0.8" fill="#f4fafd"/>
<rect x="261.03778966131904" y="279.11637279596977" width="11.579322638146209" height="2.508816120906829" rx="0.8" fill="#a9e0f5"/>
<rect x="258.8666666666667" y="288.0017632241814" width="15.921568627450995" height="1.9861460957178565" fill="#f6fbfe"/>
<circle cx="234.88092691622103" cy="298.0370277078086" r="0.93048128342246" fill="#e0505e"/>
<circle cx="236.63850267379678" cy="298.35062972292195" r="0.8270944741532977" fill="#4a90d0"/>
<rect x="239.42994652406418" y="297.82795969773304" width="11.372549019607844" height="0.7317380352644834" fill="#c2c2c2"/>
<rect x="266.00035650623886" y="299.9186397984887" width="1.6541889483065955" height="1.0453400503778336" rx="0.4" fill="#444"/>
<circle cx="262.5885918003565" cy="265.1088161209068" r="0.36185383244206776" fill="#50b070"/>
<rect x="263.4156862745098" y="264.7952141057935" width="6.2032085561497325" height="0.5226700251889168" fill="#c8c8c8"/>
<text x="247.7" y="316.4" font-size="6.6" font-weight="normal" text-anchor="middle" fill="#1c1c1c" stroke="#1c1c1c" stroke-width="0.12" >based on a</text>
<text x="248.9" y="324.2" font-size="6.6" font-weight="normal" text-anchor="middle" fill="#1c1c1c" stroke="#1c1c1c" stroke-width="0.12" >5 high-quality SNP</text>
<text x="249.3" y="334.3" font-size="6.4" font-weight="normal" text-anchor="middle" fill="#1c1c1c" stroke="#1c1c1c" stroke-width="0.12" >(<tspan font-weight="bold">Kilobasic Panel</tspan>)</text>
<text x="293.5" y="191.9" font-size="15" font-weight="bold" text-anchor="start" fill="#111" stroke="#111" stroke-width="0.12" >e</text>
<rect x="309" y="178" width="106.2" height="17.7" fill="#eceff4" />
<text x="362.3" y="190.1" font-size="9.2" font-weight="normal" text-anchor="middle" fill="#1c1c1c" stroke="#1c1c1c" stroke-width="0.12" >scDNA (day 4)</text>
<rect x="301.8" y="212.3" width="9.9" height="4.7" fill="#e0657f" />
<text x="312" y="217" font-size="6.6" font-weight="normal" text-anchor="start" fill="#333" stroke="#333" stroke-width="0.12" >LOH11pI</text>
<rect x="344.1" y="212.3" width="9.2" height="4.7" fill="#1f6b9c" />
<text x="354" y="217" font-size="6.6" font-weight="normal" text-anchor="start" fill="#333" stroke="#333" stroke-width="0.12" >LOH11pII</text>
<rect x="301.8" y="221.8" width="9.9" height="4.4" fill="#f59ac6" />
<text x="312" y="226.3" font-size="6.6" font-weight="normal" text-anchor="start" fill="#333" stroke="#333" stroke-width="0.12" >iLOH11pI</text>
<rect x="344.1" y="221.8" width="9.2" height="4.4" fill="#5f98ee" />
<text x="354" y="226.3" font-size="6.6" font-weight="normal" text-anchor="start" fill="#333" stroke="#333" stroke-width="0.12" >iLOH11pII</text>
<line x1="327.4" y1="234.9" x2="327.4" y2="312.3" stroke="#555" stroke-width="0.6" />
<line x1="325" y1="312.3" x2="361.5" y2="312.3" stroke="#555" stroke-width="0.6" />
<line x1="325.6" y1="312.3" x2="327.4" y2="312.3" stroke="#555" stroke-width="0.5" />
<text x="324.6" y="314.5" font-size="6.2" font-weight="bold" text-anchor="end" fill="#222" stroke="#222" stroke-width="0.12" >0</text>
<line x1="325.6" y1="296.82" x2="327.4" y2="296.82" stroke="#555" stroke-width="0.5" />
<text x="324.6" y="299.02" font-size="6.2" font-weight="bold" text-anchor="end" fill="#222" stroke="#222" stroke-width="0.12" >2</text>
<line x1="325.6" y1="281.34000000000003" x2="327.4" y2="281.34000000000003" stroke="#555" stroke-width="0.5" />
<text x="324.6" y="283.54" font-size="6.2" font-weight="bold" text-anchor="end" fill="#222" stroke="#222" stroke-width="0.12" >4</text>
<line x1="325.6" y1="265.86" x2="327.4" y2="265.86" stroke="#555" stroke-width="0.5" />
<text x="324.6" y="268.06" font-size="6.2" font-weight="bold" text-anchor="end" fill="#222" stroke="#222" stroke-width="0.12" >6</text>
<line x1="325.6" y1="250.38" x2="327.4" y2="250.38" stroke="#555" stroke-width="0.5" />
<text x="324.6" y="252.57999999999998" font-size="6.2" font-weight="bold" text-anchor="end" fill="#222" stroke="#222" stroke-width="0.12" >8</text>
<line x1="325.6" y1="234.9" x2="327.4" y2="234.9" stroke="#555" stroke-width="0.5" />
<text x="324.6" y="237.1" font-size="6.2" font-weight="bold" text-anchor="end" fill="#222" stroke="#222" stroke-width="0.12" >10</text>
<line x1="343.2" y1="312.3" x2="343.2" y2="314.1" stroke="#555" stroke-width="0.5" />
<rect x="335.3" y="286.75800000000004" width="15.7" height="25.541999999999998" fill="#e0657f" />
<rect x="335.3" y="258.507" width="15.7" height="28.251000000000005" fill="#1f6b9c" />
<rect x="335.3" y="249.993" width="15.7" height="8.514000000000005" fill="#f59ac6" />
<rect x="335.3" y="241.092" width="15.7" height="8.90099999999999" fill="#8fbcf5" />
<path d="M361,241 L365,241 L365,312.3 L361,312.3 M361,258 L365,258" fill="none" stroke="#888" stroke-width="0.5"/>
<text x="370.3" y="252.4" font-size="6.9" font-weight="normal" text-anchor="start" fill="#333" stroke="#333" stroke-width="0.12" ><tspan fill="#e8202a" stroke="#e8202a" font-weight="bold">2,2%</tspan> iLOH</text>
<text x="372.9" y="288.3" font-size="6.9" font-weight="normal" text-anchor="start" fill="#333" stroke="#333" stroke-width="0.12" ><tspan fill="#e8202a" stroke="#e8202a" font-weight="bold">7%</tspan> tLOH</text>
<path d="M393.4,240.6 L393.4,232.6 L410.6,232.6 M393.4,295.5 L393.4,302.7 L410.6,302.7" fill="none" stroke="#555" stroke-width="0.85"/>
<path d="M409.3,231.5 L411.3,232.6 L409.3,233.7 Z M409.3,301.6 L411.3,302.7 L409.3,303.8 Z" fill="#333"/>
<text x="343.2" y="322" font-size="6.4" font-weight="bold" text-anchor="middle" fill="#222" stroke="#222" stroke-width="0.12" >D4</text>
<text x="342.6" y="334.9" font-size="6.9" font-weight="normal" text-anchor="middle" fill="#333" stroke="#333" stroke-width="0.12" >n = 1855 cells</text>
<text transform="translate(307.8,272.9) rotate(-90)" font-size="8.6" font-weight="bold" text-anchor="middle" fill="#222">%LOH11p</text>
<rect x="416" y="201.6" width="131" height="139.3" fill="#e9edf3" />
<text x="449.1" y="209.8" font-size="4.35" font-weight="bold" text-anchor="middle" fill="#222" stroke="#222" stroke-width="0.12" >Interstitial CN-LOH</text>
<line x1="424.1" y1="212.60000000000002" x2="474.70000000000005" y2="212.60000000000002" stroke="#777" stroke-width="0.6" />
<rect x="424.1" y="215.8" width="5.9" height="2.7" fill="#f591c3" />
<text x="430.90000000000003" y="218.70000000000002" font-size="3.7" font-weight="normal" text-anchor="start" fill="#444" stroke="#444" stroke-width="0.12" >iLOH11pI</text>
<rect x="450.1" y="215.8" width="5.7" height="2.7" fill="#6a9ff0" />
<text x="456.70000000000005" y="218.70000000000002" font-size="3.7" font-weight="normal" text-anchor="start" fill="#444" stroke="#444" stroke-width="0.12" >iLOH11pII</text>
<g clip-path="url(#cc1)"><rect x="429.40000000000003" y="223.20000000000002" width="10.4" height="45.400000000000006" fill="#df5f7b"/></g>
<circle cx="434.6" cy="244.0" r="1.04" fill="#f4b8c6"/>
<g clip-path="url(#cc2)"><rect x="437.3" y="223.20000000000002" width="10.4" height="45.400000000000006" fill="#1d6b9c"/><rect x="437.3" y="229.5" width="10.4" height="3.4000000000000057" fill="#f591c3"/></g>
<circle cx="442.5" cy="244.0" r="1.04" fill="#5fa0c8"/>
<g clip-path="url(#cc3)"><rect x="451.40000000000003" y="223.20000000000002" width="10.4" height="45.400000000000006" fill="#df5f7b"/><rect x="451.40000000000003" y="229.5" width="10.4" height="3.4000000000000057" fill="#6a9ff0"/></g>
<circle cx="456.6" cy="244.0" r="1.04" fill="#f4b8c6"/>
<g clip-path="url(#cc4)"><rect x="459.40000000000003" y="223.20000000000002" width="10.4" height="45.400000000000006" fill="#1d6b9c"/></g>
<circle cx="464.6" cy="244.0" r="1.04" fill="#5fa0c8"/>
<line x1="424.8" y1="232.9" x2="473.90000000000003" y2="232.9" stroke="#555" stroke-opacity="0.75" stroke-width="0.9"/>
<text x="514.2" y="209.8" font-size="4.35" font-weight="bold" text-anchor="middle" fill="#222" stroke="#222" stroke-width="0.12" >Interstitial CL-LOH</text>
<line x1="489.2" y1="212.60000000000002" x2="539.8" y2="212.60000000000002" stroke="#777" stroke-width="0.6" />
<rect x="489.2" y="215.8" width="5.9" height="2.7" fill="#f591c3" />
<text x="496.0" y="218.70000000000002" font-size="3.7" font-weight="normal" text-anchor="start" fill="#444" stroke="#444" stroke-width="0.12" >iLOH11pI</text>
<rect x="515.2" y="215.8" width="5.7" height="2.7" fill="#6a9ff0" />
<text x="521.8" y="218.70000000000002" font-size="3.7" font-weight="normal" text-anchor="start" fill="#444" stroke="#444" stroke-width="0.12" >iLOH11pII</text>
<g clip-path="url(#cc5)"><rect x="494.5" y="223.20000000000002" width="10.4" height="45.400000000000006" fill="#df5f7b"/></g>
<circle cx="499.7" cy="244.0" r="1.04" fill="#f4b8c6"/>
<g clip-path="url(#cc6)"><rect x="502.4" y="223.20000000000002" width="10.4" height="45.400000000000006" fill="#1d6b9c"/><rect x="502.4" y="229.5" width="10.4" height="3.4000000000000057" fill="#d5dde8"/></g>
<circle cx="507.59999999999997" cy="244.0" r="1.04" fill="#5fa0c8"/>
<g clip-path="url(#cc7)"><rect x="516.5" y="223.20000000000002" width="10.4" height="45.400000000000006" fill="#df5f7b"/><rect x="516.5" y="229.5" width="10.4" height="3.4000000000000057" fill="#d5dde8"/></g>
<circle cx="521.7" cy="244.0" r="1.04" fill="#f4b8c6"/>
<g clip-path="url(#cc8)"><rect x="524.5" y="223.20000000000002" width="10.4" height="45.400000000000006" fill="#1d6b9c"/></g>
<circle cx="529.7" cy="244.0" r="1.04" fill="#5fa0c8"/>
<line x1="489.9" y1="232.9" x2="539.0" y2="232.9" stroke="#555" stroke-opacity="0.75" stroke-width="0.9"/>
<text x="448.4" y="279.5" font-size="4.35" font-weight="bold" text-anchor="middle" fill="#222" stroke="#222" stroke-width="0.12" >Terminal CN-LOH</text>
<line x1="423.4" y1="282.3" x2="474.0" y2="282.3" stroke="#777" stroke-width="0.6" />
<rect x="423.4" y="285.5" width="5.9" height="2.7" fill="#df5f7b" />
<text x="430.2" y="288.4" font-size="3.7" font-weight="normal" text-anchor="start" fill="#444" stroke="#444" stroke-width="0.12" >LOH11pI</text>
<rect x="449.4" y="285.5" width="5.7" height="2.7" fill="#1d6b9c" />
<text x="456.0" y="288.4" font-size="3.7" font-weight="normal" text-anchor="start" fill="#444" stroke="#444" stroke-width="0.12" >LOH11pII</text>
<g clip-path="url(#cc9)"><rect x="428.7" y="292.9" width="10.4" height="45.400000000000034" fill="#df5f7b"/></g>
<circle cx="433.9" cy="313.7" r="1.04" fill="#f4b8c6"/>
<g clip-path="url(#cc10)"><rect x="436.59999999999997" y="292.9" width="10.4" height="45.400000000000034" fill="#1d6b9c"/><rect x="436.59999999999997" y="292.9" width="10.4" height="9.700000000000045" fill="#df5f7b"/></g>
<circle cx="441.79999999999995" cy="313.7" r="1.04" fill="#5fa0c8"/>
<g clip-path="url(#cc11)"><rect x="450.7" y="292.9" width="10.4" height="45.400000000000034" fill="#df5f7b"/><rect x="450.7" y="292.9" width="10.4" height="9.700000000000045" fill="#1d6b9c"/></g>
<circle cx="455.9" cy="313.7" r="1.04" fill="#f4b8c6"/>
<g clip-path="url(#cc12)"><rect x="458.7" y="292.9" width="10.4" height="45.400000000000034" fill="#1d6b9c"/></g>
<circle cx="463.9" cy="313.7" r="1.04" fill="#5fa0c8"/>
<line x1="424.09999999999997" y1="302.6" x2="473.2" y2="302.6" stroke="#555" stroke-opacity="0.75" stroke-width="0.9"/>
<text x="513.3" y="279.5" font-size="4.35" font-weight="bold" text-anchor="middle" fill="#222" stroke="#222" stroke-width="0.12" >Terminal CL-LOH</text>
<line x1="488.3" y1="282.3" x2="538.9" y2="282.3" stroke="#777" stroke-width="0.6" />
<rect x="488.3" y="285.5" width="5.9" height="2.7" fill="#df5f7b" />
<text x="495.1" y="288.4" font-size="3.7" font-weight="normal" text-anchor="start" fill="#444" stroke="#444" stroke-width="0.12" >LOH11pI</text>
<rect x="514.3" y="285.5" width="5.7" height="2.7" fill="#1d6b9c" />
<text x="520.9" y="288.4" font-size="3.7" font-weight="normal" text-anchor="start" fill="#444" stroke="#444" stroke-width="0.12" >LOH11pII</text>
<g clip-path="url(#cc13)"><rect x="493.6" y="292.9" width="10.4" height="45.400000000000034" fill="#df5f7b"/></g>
<circle cx="498.8" cy="313.7" r="1.04" fill="#f4b8c6"/>
<g clip-path="url(#cc14)"><rect x="501.5" y="302.6" width="10.4" height="35.69999999999999" fill="#1d6b9c"/></g>
<circle cx="506.7" cy="313.7" r="1.04" fill="#5fa0c8"/>
<g clip-path="url(#cc15)"><rect x="515.5999999999999" y="302.6" width="10.4" height="35.69999999999999" fill="#df5f7b"/></g>
<circle cx="520.8" cy="313.7" r="1.04" fill="#f4b8c6"/>
<g clip-path="url(#cc16)"><rect x="523.5999999999999" y="292.9" width="10.4" height="45.400000000000034" fill="#1d6b9c"/></g>
<circle cx="528.8" cy="313.7" r="1.04" fill="#5fa0c8"/>
<line x1="489.0" y1="302.6" x2="538.1" y2="302.6" stroke="#555" stroke-opacity="0.75" stroke-width="0.9"/>
<text x="480.3" y="233.8" font-size="4.6" font-weight="bold" text-anchor="start" fill="#333" stroke="#333" stroke-width="0.12" >or</text>
<text x="479.8" y="303.5" font-size="4.6" font-weight="bold" text-anchor="start" fill="#333" stroke="#333" stroke-width="0.12" >or</text>
<line x1="417" y1="271.9" x2="540" y2="271.9" stroke="#8a9098" stroke-width="0.7" stroke-dasharray="0.8,1.5"/>
<text x="551.5" y="191.5" font-size="15" font-weight="bold" text-anchor="start" fill="#111" stroke="#111" stroke-width="0.12" >f</text>
<rect x="565.4" y="178.2" width="117.8" height="17.4" fill="#eceff4" />
<text x="624.4" y="189.4" font-size="9.1" font-weight="normal" text-anchor="middle" fill="#1c1c1c" stroke="#1c1c1c" stroke-width="0.12" >CL/CN-LOH distribution</text>
<text x="609.5" y="212.3" font-size="6.15" font-weight="bold" text-anchor="middle" fill="#222" stroke="#222" stroke-width="0.12" >Terminal LOH</text>
<line x1="589.6" y1="214.2" x2="629.4" y2="214.2" stroke="#555" stroke-width="0.5" />
<text x="609.5" y="220.8" font-size="6" font-weight="normal" text-anchor="middle" fill="#333" stroke="#333" stroke-width="0.12" >LOH11p</text>
<text x="655.6" y="212.3" font-size="6.15" font-weight="bold" text-anchor="middle" fill="#222" stroke="#222" stroke-width="0.12" >Interstitial LOH</text>
<line x1="633.5" y1="214.2" x2="677.8" y2="214.2" stroke="#555" stroke-width="0.5" />
<text x="655.6" y="220.8" font-size="6" font-weight="normal" text-anchor="middle" fill="#333" stroke="#333" stroke-width="0.12" >LOH11p</text>
<line x1="587" y1="238.7" x2="587" y2="312.6" stroke="#555" stroke-width="0.6" />
<line x1="584.8" y1="312.6" x2="679" y2="312.6" stroke="#555" stroke-width="0.6" />
<line x1="585" y1="312.6" x2="587" y2="312.6" stroke="#555" stroke-width="0.5" />
<text x="584.2" y="314.8" font-size="6.2" font-weight="bold" text-anchor="end" fill="#222" stroke="#222" stroke-width="0.12" >0</text>
<line x1="585" y1="297.82000000000005" x2="587" y2="297.82000000000005" stroke="#555" stroke-width="0.5" />
<text x="584.2" y="300.02000000000004" font-size="6.2" font-weight="bold" text-anchor="end" fill="#222" stroke="#222" stroke-width="0.12" >20</text>
<line x1="585" y1="283.04" x2="587" y2="283.04" stroke="#555" stroke-width="0.5" />
<text x="584.2" y="285.24" font-size="6.2" font-weight="bold" text-anchor="end" fill="#222" stroke="#222" stroke-width="0.12" >40</text>
<line x1="585" y1="268.26000000000005" x2="587" y2="268.26000000000005" stroke="#555" stroke-width="0.5" />
<text x="584.2" y="270.46000000000004" font-size="6.2" font-weight="bold" text-anchor="end" fill="#222" stroke="#222" stroke-width="0.12" >60</text>
<line x1="585" y1="253.48000000000002" x2="587" y2="253.48000000000002" stroke="#555" stroke-width="0.5" />
<text x="584.2" y="255.68" font-size="6.2" font-weight="bold" text-anchor="end" fill="#222" stroke="#222" stroke-width="0.12" >80</text>
<line x1="585" y1="238.70000000000002" x2="587" y2="238.70000000000002" stroke="#555" stroke-width="0.5" />
<text x="584.2" y="240.9" font-size="6.2" font-weight="bold" text-anchor="end" fill="#222" stroke="#222" stroke-width="0.12" >100</text>
<rect x="596.1" y="257.0" width="9.4" height="55.60000000000002" fill="#e0657f" />
<rect x="596.1" y="238.70000000000002" width="9.4" height="18.299999999999983" fill="#dfa2b3" />
<text x="600.8000000000001" y="234.8" font-size="6.0" font-weight="bold" text-anchor="middle" fill="#e8a2b4" stroke="#e8a2b4" stroke-width="0.12" textLength="1.4" lengthAdjust="spacingAndGlyphs">I</text>
<rect x="614.1" y="252.0" width="9.6" height="60.60000000000002" fill="#1f6b9c" />
<rect x="614.1" y="238.70000000000002" width="9.6" height="13.299999999999983" fill="#8aa9c6" />
<text x="618.9" y="234.8" font-size="6.0" font-weight="bold" text-anchor="middle" fill="#8fb0cc" stroke="#8fb0cc" stroke-width="0.12" textLength="2.6" lengthAdjust="spacingAndGlyphs">II</text>
<rect x="643.1" y="271.0" width="9.2" height="41.60000000000002" fill="#f28cbf" />
<rect x="643.1" y="238.70000000000002" width="9.2" height="32.29999999999998" fill="#fcd6e8" />
<text x="647.7" y="234.8" font-size="6.0" font-weight="bold" text-anchor="middle" fill="#f9c4dc" stroke="#f9c4dc" stroke-width="0.12" textLength="1.4" lengthAdjust="spacingAndGlyphs">I</text>
<rect x="660.9" y="253.8" width="9.2" height="58.80000000000001" fill="#8ab8f3" />
<rect x="660.9" y="238.70000000000002" width="9.2" height="15.099999999999994" fill="#d4e4f9" />
<text x="665.5" y="234.8" font-size="6.0" font-weight="bold" text-anchor="middle" fill="#b4d0f4" stroke="#b4d0f4" stroke-width="0.12" textLength="2.6" lengthAdjust="spacingAndGlyphs">II</text>
<text x="600.8" y="249.8" font-size="5.8" font-weight="bold" text-anchor="middle" fill="#ffffff" stroke="#ffffff" stroke-width="0.12" >17</text>
<text x="600.8" y="285.8" font-size="5.8" font-weight="bold" text-anchor="middle" fill="#ffffff" stroke="#ffffff" stroke-width="0.12" >50</text>
<text x="618.9" y="247" font-size="5.8" font-weight="bold" text-anchor="middle" fill="#ffffff" stroke="#ffffff" stroke-width="0.12" >11</text>
<text x="618.9" y="283.2" font-size="5.8" font-weight="bold" text-anchor="middle" fill="#ffffff" stroke="#ffffff" stroke-width="0.12" >51</text>
<text x="647.7" y="257.1" font-size="5.8" font-weight="bold" text-anchor="middle" fill="#ffffff" stroke="#ffffff" stroke-width="0.12" >8</text>
<text x="647.7" y="293.6" font-size="5.8" font-weight="bold" text-anchor="middle" fill="#ffffff" stroke="#ffffff" stroke-width="0.12" >11</text>
<text x="665.5" y="248.5" font-size="5.8" font-weight="bold" text-anchor="middle" fill="#ffffff" stroke="#ffffff" stroke-width="0.12" >4</text>
<text x="665.5" y="284.1" font-size="5.8" font-weight="bold" text-anchor="middle" fill="#ffffff" stroke="#ffffff" stroke-width="0.12" >15</text>
<text x="556.9" y="325.4" font-size="6.2" font-weight="bold" text-anchor="start" fill="#222" stroke="#222" stroke-width="0.12" >LOH cells</text>
<text x="556.9" y="336.4" font-size="6.2" font-weight="bold" text-anchor="start" fill="#222" stroke="#222" stroke-width="0.12" >Total</text>
<text x="600.5" y="325.4" font-size="6.2" font-weight="normal" text-anchor="middle" fill="#333" stroke="#333" stroke-width="0.12" >67</text>
<text x="618.8" y="325.4" font-size="6.2" font-weight="normal" text-anchor="middle" fill="#333" stroke="#333" stroke-width="0.12" >62</text>
<text x="647.6" y="325.4" font-size="6.2" font-weight="normal" text-anchor="middle" fill="#333" stroke="#333" stroke-width="0.12" >19</text>
<text x="665.8" y="325.4" font-size="6.2" font-weight="normal" text-anchor="middle" fill="#333" stroke="#333" stroke-width="0.12" >19</text>
<line x1="597.4" y1="328.5" x2="623" y2="328.5" stroke="#555" stroke-width="0.6" />
<line x1="644.3" y1="328.5" x2="670" y2="328.5" stroke="#555" stroke-width="0.6" />
<text x="609.9" y="336.4" font-size="6.2" font-weight="normal" text-anchor="middle" fill="#333" stroke="#333" stroke-width="0.12" >n = 129</text>
<text x="656.4" y="336.4" font-size="6.2" font-weight="normal" text-anchor="middle" fill="#333" stroke="#333" stroke-width="0.12" >n = 38</text>
<rect x="573.4" y="348.3" width="7.5" height="3.9" fill="#e0657f" />
<rect x="583.43" y="348.3" width="7.5" height="3.9" fill="#1f6b9c" />
<rect x="593.4599999999999" y="348.3" width="7.5" height="3.9" fill="#f28cbf" />
<rect x="603.49" y="348.3" width="7.5" height="3.9" fill="#8ab8f3" />
<rect x="573.4" y="361.0" width="7.5" height="3.9" fill="#dfa2b3" />
<rect x="583.43" y="361.0" width="7.5" height="3.9" fill="#8aa9c6" />
<rect x="593.4599999999999" y="361.0" width="7.5" height="3.9" fill="#fbd3e6" />
<rect x="603.49" y="361.0" width="7.5" height="3.9" fill="#d4e4f9" />
<text x="613.5" y="352.2" font-size="6.1" font-weight="normal" text-anchor="start" fill="#333" stroke="#333" stroke-width="0.12" >Copy-loss LOH (del)</text>
<text x="613.5" y="364.9" font-size="6.1" font-weight="normal" text-anchor="start" fill="#333" stroke="#333" stroke-width="0.12" >Copy-neutral LOH</text>
<text transform="translate(563.2,274) rotate(-90)" font-size="8.2" font-weight="bold" text-anchor="middle" fill="#222">%LOH11p</text>
<text x="6.1" y="395.0" font-size="15" font-weight="bold" text-anchor="start" fill="#111" stroke="#111" stroke-width="0.12" >g</text>
<rect x="21.4" y="380.9" width="294.3" height="17.1" fill="#eceff4" />
<text x="168.5" y="392.8" font-size="9.1" font-weight="normal" text-anchor="middle" fill="#1c1c1c" stroke="#1c1c1c" stroke-width="0.12" >Copy-loss and copy-neutral LOH distribution (scDNA – day 4)</text>
<text x="34.3" y="429.5" font-size="6.3" font-weight="bold" text-anchor="middle" fill="#222" stroke="#222" stroke-width="0.12" >LOH cells</text>
<text x="80.3" y="428.7" font-size="6.3" font-weight="bold" text-anchor="middle" fill="#222" stroke="#222" stroke-width="0.12" >Ploidy</text>
<rect x="105.6" y="448.835" width="210.29999999999998" height="7.700000000000003" fill="#e6e6e6" />
<line x1="105.6" y1="460.0" x2="315.9" y2="460.0" stroke="#f0f0f0" stroke-width="0.5" />
<line x1="105.6" y1="452.29999999999995" x2="315.9" y2="452.29999999999995" stroke="#f0f0f0" stroke-width="0.5" />
<line x1="105.6" y1="444.59999999999997" x2="315.9" y2="444.59999999999997" stroke="#f0f0f0" stroke-width="0.5" />
<line x1="105.6" y1="436.9" x2="315.9" y2="436.9" stroke="#f0f0f0" stroke-width="0.5" />
<line x1="104.6" y1="467.7" x2="315.9" y2="467.7" stroke="#b5b5b5" stroke-width="0.7" />
<text x="104.3" y="468.8" font-size="3.1" font-weight="normal" text-anchor="middle" fill="#999" stroke="#999" stroke-width="0.12" >0</text>
<text x="104.3" y="461.1" font-size="3.1" font-weight="normal" text-anchor="middle" fill="#999" stroke="#999" stroke-width="0.12" >1</text>
<text x="104.3" y="453.4" font-size="3.1" font-weight="normal" text-anchor="middle" fill="#999" stroke="#999" stroke-width="0.12" >2</text>
<text x="104.3" y="445.7" font-size="3.1" font-weight="normal" text-anchor="middle" fill="#999" stroke="#999" stroke-width="0.12" >3</text>
<text x="104.3" y="438.0" font-size="3.1" font-weight="normal" text-anchor="middle" fill="#999" stroke="#999" stroke-width="0.12" >4</text>
<rect x="106.62" y="451.72" width="1.15" height="1.15" fill="#7c2a5a"/>
<rect x="107.92" y="451.72" width="1.15" height="1.15" fill="#7f8fb8"/>
<rect x="109.22" y="451.72" width="1.15" height="1.15" fill="#7c2a5a"/>
<rect x="110.52" y="451.72" width="1.15" height="1.15" fill="#7f8fb8"/>
<rect x="111.82" y="451.72" width="1.15" height="1.15" fill="#7c2a5a"/>
<rect x="113.12" y="451.72" width="1.15" height="1.15" fill="#7f8fb8"/>
<rect x="114.42" y="451.72" width="1.15" height="1.15" fill="#7c2a5a"/>
<rect x="115.72" y="451.72" width="1.15" height="1.15" fill="#7f8fb8"/>
<rect x="117.02" y="451.72" width="1.15" height="1.15" fill="#7c2a5a"/>
<rect x="118.32" y="451.72" width="1.15" height="1.15" fill="#7f8fb8"/>
<rect x="119.62" y="451.72" width="1.15" height="1.15" fill="#7c2a5a"/>
<rect x="120.92" y="451.72" width="1.15" height="1.15" fill="#7f8fb8"/>
<rect x="122.22" y="451.72" width="1.15" height="1.15" fill="#7c2a5a"/>
<rect x="123.52" y="451.72" width="1.15" height="1.15" fill="#7f8fb8"/>
<rect x="124.82" y="451.72" width="1.15" height="1.15" fill="#7c2a5a"/>
<rect x="126.12" y="451.72" width="1.15" height="1.15" fill="#7f8fb8"/>
<rect x="127.42" y="451.72" width="1.15" height="1.15" fill="#7c2a5a"/>
<rect x="128.72" y="451.72" width="1.15" height="1.15" fill="#7f8fb8"/>
<rect x="130.02" y="451.72" width="1.15" height="1.15" fill="#7c2a5a"/>
<rect x="131.32" y="451.72" width="1.15" height="1.15" fill="#7f8fb8"/>
<rect x="132.62" y="451.72" width="1.15" height="1.15" fill="#7c2a5a"/>
<rect x="133.93" y="451.72" width="1.15" height="1.15" fill="#7f8fb8"/>
<rect x="135.23" y="451.72" width="1.15" height="1.15" fill="#7c2a5a"/>
<rect x="136.53" y="451.72" width="1.15" height="1.15" fill="#7f8fb8"/>
<rect x="137.83" y="451.72" width="1.15" height="1.15" fill="#7c2a5a"/>
<rect x="139.13" y="451.72" width="1.15" height="1.15" fill="#7f8fb8"/>
<rect x="140.43" y="451.72" width="1.15" height="1.15" fill="#7c2a5a"/>
<rect x="141.73" y="451.72" width="1.15" height="1.15" fill="#7f8fb8"/>
<rect x="143.03" y="451.72" width="1.15" height="1.15" fill="#7c2a5a"/>
<rect x="144.33" y="451.72" width="1.15" height="1.15" fill="#7f8fb8"/>
<rect x="145.63" y="451.72" width="1.15" height="1.15" fill="#7c2a5a"/>
<rect x="146.93" y="451.72" width="1.15" height="1.15" fill="#7f8fb8"/>
<rect x="148.23" y="451.72" width="1.15" height="1.15" fill="#7c2a5a"/>
<rect x="149.53" y="451.72" width="1.15" height="1.15" fill="#7f8fb8"/>
<rect x="150.83" y="451.72" width="1.15" height="1.15" fill="#7c2a5a"/>
<rect x="152.13" y="451.72" width="1.15" height="1.15" fill="#7f8fb8"/>
<rect x="153.43" y="451.72" width="1.15" height="1.15" fill="#7c2a5a"/>
<rect x="154.73" y="451.72" width="1.15" height="1.15" fill="#7f8fb8"/>
<rect x="156.03" y="451.72" width="1.15" height="1.15" fill="#7c2a5a"/>
<rect x="157.33" y="451.72" width="1.15" height="1.15" fill="#7f8fb8"/>
<rect x="158.63" y="451.72" width="1.15" height="1.15" fill="#7c2a5a"/>
<rect x="159.93" y="451.72" width="1.15" height="1.15" fill="#7f8fb8"/>
<rect x="161.23" y="451.72" width="1.15" height="1.15" fill="#7c2a5a"/>
<rect x="162.53" y="451.72" width="1.15" height="1.15" fill="#7f8fb8"/>
<rect x="163.83" y="451.72" width="1.15" height="1.15" fill="#7c2a5a"/>
<rect x="165.13" y="451.72" width="1.15" height="1.15" fill="#7f8fb8"/>
<rect x="166.43" y="451.72" width="1.15" height="1.15" fill="#7c2a5a"/>
<rect x="167.73" y="451.72" width="1.15" height="1.15" fill="#7f8fb8"/>
<rect x="169.03" y="451.72" width="1.15" height="1.15" fill="#7c2a5a"/>
<rect x="170.33" y="451.72" width="1.15" height="1.15" fill="#7f8fb8"/>
<rect x="171.63" y="451.72" width="1.15" height="1.15" fill="#7c2a5a"/>
<rect x="172.93" y="451.72" width="1.15" height="1.15" fill="#7f8fb8"/>
<rect x="174.23" y="451.72" width="1.15" height="1.15" fill="#7c2a5a"/>
<rect x="175.53" y="451.72" width="1.15" height="1.15" fill="#7f8fb8"/>
<rect x="176.83" y="451.72" width="1.15" height="1.15" fill="#7c2a5a"/>
<rect x="178.13" y="451.72" width="1.15" height="1.15" fill="#7f8fb8"/>
<rect x="179.43" y="451.72" width="1.15" height="1.15" fill="#7c2a5a"/>
<rect x="180.73" y="451.72" width="1.15" height="1.15" fill="#7f8fb8"/>
<rect x="182.03" y="451.72" width="1.15" height="1.15" fill="#7c2a5a"/>
<rect x="183.33" y="451.72" width="1.15" height="1.15" fill="#7f8fb8"/>
<rect x="184.63" y="451.72" width="1.15" height="1.15" fill="#7c2a5a"/>
<rect x="185.93" y="451.72" width="1.15" height="1.15" fill="#7f8fb8"/>
<rect x="187.23" y="451.72" width="1.15" height="1.15" fill="#7c2a5a"/>
<rect x="188.53" y="451.72" width="1.15" height="1.15" fill="#7f8fb8"/>
<rect x="189.83" y="451.72" width="1.15" height="1.15" fill="#7c2a5a"/>
<rect x="191.13" y="451.72" width="1.15" height="1.15" fill="#7f8fb8"/>
<rect x="192.43" y="451.72" width="1.15" height="1.15" fill="#7c2a5a"/>
<rect x="193.73" y="451.72" width="1.15" height="1.15" fill="#7f8fb8"/>
<rect x="195.03" y="451.72" width="1.15" height="1.15" fill="#7c2a5a"/>
<rect x="196.33" y="451.72" width="1.15" height="1.15" fill="#7f8fb8"/>
<rect x="197.63" y="451.72" width="1.15" height="1.15" fill="#7c2a5a"/>
<rect x="198.93" y="451.72" width="1.15" height="1.15" fill="#7f8fb8"/>
<rect x="200.23" y="451.72" width="1.15" height="1.15" fill="#7c2a5a"/>
<rect x="201.53" y="451.72" width="1.15" height="1.15" fill="#7f8fb8"/>
<rect x="202.83" y="451.72" width="1.15" height="1.15" fill="#7c2a5a"/>
<rect x="204.13" y="451.72" width="1.15" height="1.15" fill="#7f8fb8"/>
<rect x="205.43" y="451.72" width="1.15" height="1.15" fill="#7c2a5a"/>
<rect x="206.73" y="451.72" width="1.15" height="1.15" fill="#7f8fb8"/>
<rect x="208.03" y="451.72" width="1.15" height="1.15" fill="#7c2a5a"/>
<rect x="209.33" y="451.72" width="1.15" height="1.15" fill="#7f8fb8"/>
<rect x="210.63" y="451.72" width="1.15" height="1.15" fill="#7c2a5a"/>
<rect x="211.93" y="451.72" width="1.15" height="1.15" fill="#7f8fb8"/>
<rect x="213.23" y="451.72" width="1.15" height="1.15" fill="#7c2a5a"/>
<rect x="214.53" y="451.72" width="1.15" height="1.15" fill="#7f8fb8"/>
<rect x="215.83" y="451.72" width="1.15" height="1.15" fill="#7c2a5a"/>
<rect x="217.13" y="451.72" width="1.15" height="1.15" fill="#7f8fb8"/>
<rect x="218.43" y="451.72" width="1.15" height="1.15" fill="#7c2a5a"/>
<rect x="219.73" y="451.72" width="1.15" height="1.15" fill="#7f8fb8"/>
<rect x="221.03" y="451.72" width="1.15" height="1.15" fill="#7c2a5a"/>
<rect x="222.33" y="451.72" width="1.15" height="1.15" fill="#7f8fb8"/>
<rect x="223.63" y="451.72" width="1.15" height="1.15" fill="#7c2a5a"/>
<rect x="224.93" y="451.72" width="1.15" height="1.15" fill="#7f8fb8"/>
<rect x="226.23" y="451.72" width="1.15" height="1.15" fill="#7c2a5a"/>
<rect x="227.53" y="451.72" width="1.15" height="1.15" fill="#7f8fb8"/>
<rect x="228.83" y="451.72" width="1.15" height="1.15" fill="#7c2a5a"/>
<rect x="230.13" y="451.72" width="1.15" height="1.15" fill="#7f8fb8"/>
<rect x="231.43" y="451.72" width="1.15" height="1.15" fill="#7c2a5a"/>
<rect x="232.73" y="451.72" width="1.15" height="1.15" fill="#7f8fb8"/>
<rect x="234.03" y="451.72" width="1.15" height="1.15" fill="#7c2a5a"/>
<rect x="235.33" y="451.72" width="1.15" height="1.15" fill="#7f8fb8"/>
<rect x="236.63" y="451.72" width="1.15" height="1.15" fill="#7c2a5a"/>
<rect x="237.93" y="451.72" width="1.15" height="1.15" fill="#7f8fb8"/>
<rect x="239.23" y="451.72" width="1.15" height="1.15" fill="#7c2a5a"/>
<rect x="240.53" y="451.72" width="1.15" height="1.15" fill="#7f8fb8"/>
<rect x="241.83" y="451.72" width="1.15" height="1.15" fill="#7c2a5a"/>
<rect x="243.13" y="451.72" width="1.15" height="1.15" fill="#7f8fb8"/>
<rect x="244.43" y="451.72" width="1.15" height="1.15" fill="#7c2a5a"/>
<rect x="245.73" y="451.72" width="1.15" height="1.15" fill="#7f8fb8"/>
<rect x="247.03" y="451.72" width="1.15" height="1.15" fill="#7c2a5a"/>
<rect x="248.33" y="451.72" width="1.15" height="1.15" fill="#7f8fb8"/>
<rect x="249.63" y="451.72" width="1.15" height="1.15" fill="#7c2a5a"/>
<rect x="250.93" y="451.72" width="1.15" height="1.15" fill="#7f8fb8"/>
<rect x="252.23" y="451.72" width="1.15" height="1.15" fill="#7c2a5a"/>
<rect x="253.53" y="451.72" width="1.15" height="1.15" fill="#7f8fb8"/>
<rect x="254.83" y="451.72" width="1.15" height="1.15" fill="#7c2a5a"/>
<rect x="256.13" y="451.72" width="1.15" height="1.15" fill="#7f8fb8"/>
<rect x="257.43" y="451.72" width="1.15" height="1.15" fill="#7c2a5a"/>
<rect x="258.73" y="451.72" width="1.15" height="1.15" fill="#7f8fb8"/>
<rect x="260.03" y="451.72" width="1.15" height="1.15" fill="#7c2a5a"/>
<rect x="261.33" y="451.72" width="1.15" height="1.15" fill="#7f8fb8"/>
<rect x="262.63" y="451.72" width="1.15" height="1.15" fill="#7c2a5a"/>
<rect x="263.93" y="451.72" width="1.15" height="1.15" fill="#7f8fb8"/>
<rect x="265.23" y="451.72" width="1.15" height="1.15" fill="#7c2a5a"/>
<rect x="266.53" y="451.72" width="1.15" height="1.15" fill="#7f8fb8"/>
<rect x="267.83" y="451.72" width="1.15" height="1.15" fill="#7c2a5a"/>
<rect x="269.13" y="451.72" width="1.15" height="1.15" fill="#7f8fb8"/>
<rect x="270.43" y="451.72" width="1.15" height="1.15" fill="#7c2a5a"/>
<rect x="271.73" y="451.72" width="1.15" height="1.15" fill="#7f8fb8"/>
<rect x="273.03" y="451.72" width="1.15" height="1.15" fill="#7c2a5a"/>
<rect x="274.33" y="451.72" width="1.15" height="1.15" fill="#7f8fb8"/>
<rect x="275.63" y="451.72" width="1.15" height="1.15" fill="#7c2a5a"/>
<rect x="276.93" y="451.72" width="1.15" height="1.15" fill="#7f8fb8"/>
<rect x="278.23" y="451.72" width="1.15" height="1.15" fill="#7c2a5a"/>
<rect x="279.53" y="451.72" width="1.15" height="1.15" fill="#7f8fb8"/>
<rect x="280.83" y="451.72" width="1.15" height="1.15" fill="#7c2a5a"/>
<rect x="282.13" y="451.72" width="1.15" height="1.15" fill="#7f8fb8"/>
<rect x="283.43" y="451.72" width="1.15" height="1.15" fill="#7c2a5a"/>
<rect x="284.73" y="451.72" width="1.15" height="1.15" fill="#7f8fb8"/>
<rect x="286.03" y="451.72" width="1.15" height="1.15" fill="#7c2a5a"/>
<rect x="287.33" y="451.72" width="1.15" height="1.15" fill="#7f8fb8"/>
<rect x="288.63" y="451.72" width="1.15" height="1.15" fill="#7c2a5a"/>
<rect x="289.93" y="451.72" width="1.15" height="1.15" fill="#7f8fb8"/>
<rect x="291.23" y="451.72" width="1.15" height="1.15" fill="#7c2a5a"/>
<rect x="292.53" y="451.72" width="1.15" height="1.15" fill="#7f8fb8"/>
<rect x="293.83" y="451.72" width="1.15" height="1.15" fill="#7c2a5a"/>
<rect x="295.13" y="451.72" width="1.15" height="1.15" fill="#7f8fb8"/>
<rect x="296.43" y="451.72" width="1.15" height="1.15" fill="#7c2a5a"/>
<rect x="297.73" y="451.72" width="1.15" height="1.15" fill="#7f8fb8"/>
<rect x="299.03" y="451.72" width="1.15" height="1.15" fill="#7c2a5a"/>
<rect x="300.33" y="451.72" width="1.15" height="1.15" fill="#7f8fb8"/>
<rect x="301.63" y="451.72" width="1.15" height="1.15" fill="#7c2a5a"/>
<rect x="302.93" y="451.72" width="1.15" height="1.15" fill="#7f8fb8"/>
<rect x="304.23" y="451.72" width="1.15" height="1.15" fill="#7c2a5a"/>
<rect x="305.53" y="451.72" width="1.15" height="1.15" fill="#7f8fb8"/>
<rect x="306.83" y="451.72" width="1.15" height="1.15" fill="#7c2a5a"/>
<rect x="308.13" y="451.72" width="1.15" height="1.15" fill="#7f8fb8"/>
<rect x="309.43" y="451.72" width="1.15" height="1.15" fill="#7c2a5a"/>
<rect x="310.73" y="451.72" width="1.15" height="1.15" fill="#7f8fb8"/>
<rect x="312.03" y="451.72" width="1.15" height="1.15" fill="#7c2a5a"/>
<rect x="313.33" y="451.72" width="1.15" height="1.15" fill="#7f8fb8"/>
<rect x="314.63" y="451.72" width="1.15" height="1.15" fill="#7c2a5a"/>
<rect x="105.6" y="483.9675" width="210.29999999999998" height="7.849999999999994" fill="#e6e6e6" />
<line x1="105.6" y1="495.35" x2="315.9" y2="495.35" stroke="#f0f0f0" stroke-width="0.5" />
<line x1="105.6" y1="487.5" x2="315.9" y2="487.5" stroke="#f0f0f0" stroke-width="0.5" />
<line x1="105.6" y1="479.65" x2="315.9" y2="479.65" stroke="#f0f0f0" stroke-width="0.5" />
<line x1="105.6" y1="471.8" x2="315.9" y2="471.8" stroke="#f0f0f0" stroke-width="0.5" />
<line x1="104.6" y1="503.2" x2="315.9" y2="503.2" stroke="#b5b5b5" stroke-width="0.7" />
<text x="104.3" y="504.3" font-size="3.1" font-weight="normal" text-anchor="middle" fill="#999" stroke="#999" stroke-width="0.12" >0</text>
<text x="104.3" y="496.45000000000005" font-size="3.1" font-weight="normal" text-anchor="middle" fill="#999" stroke="#999" stroke-width="0.12" >1</text>
<text x="104.3" y="488.6" font-size="3.1" font-weight="normal" text-anchor="middle" fill="#999" stroke="#999" stroke-width="0.12" >2</text>
<text x="104.3" y="480.75" font-size="3.1" font-weight="normal" text-anchor="middle" fill="#999" stroke="#999" stroke-width="0.12" >3</text>
<text x="104.3" y="472.90000000000003" font-size="3.1" font-weight="normal" text-anchor="middle" fill="#999" stroke="#999" stroke-width="0.12" >4</text>
<rect x="106.28" y="493.24" width="1.45" height="1.45" fill="#7c2a5a"/>
<rect x="109.35" y="491.39" width="1.45" height="1.45" fill="#7c2a5a"/>
<rect x="112.31" y="493.02" width="1.45" height="1.45" fill="#7c2a5a"/>
<rect x="115.41" y="494.29" width="1.45" height="1.45" fill="#7c2a5a"/>
<rect x="118.42" y="492.55" width="1.45" height="1.45" fill="#7c2a5a"/>
<rect x="121.78" y="494.65" width="1.45" height="1.45" fill="#7c2a5a"/>
<rect x="124.54" y="494.66" width="1.45" height="1.45" fill="#7c2a5a"/>
<rect x="127.91" y="492.30" width="1.45" height="1.45" fill="#7c2a5a"/>
<rect x="130.36" y="491.16" width="1.45" height="1.45" fill="#7c2a5a"/>
<rect x="133.92" y="492.45" width="1.45" height="1.45" fill="#7c2a5a"/>
<rect x="137.06" y="494.40" width="1.45" height="1.45" fill="#7c2a5a"/>
<rect x="142.58" y="490.79" width="1.45" height="1.45" fill="#7c2a5a"/>
<rect x="145.14" y="489.00" width="1.45" height="1.45" fill="#7c2a5a"/>
<rect x="147.93" y="485.49" width="1.45" height="1.45" fill="#7c2a5a"/>
<rect x="150.93" y="486.97" width="1.45" height="1.45" fill="#7c2a5a"/>
<rect x="153.73" y="487.93" width="1.45" height="1.45" fill="#7c2a5a"/>
<rect x="157.13" y="485.50" width="1.45" height="1.45" fill="#7c2a5a"/>
<rect x="159.78" y="488.14" width="1.45" height="1.45" fill="#7c2a5a"/>
<rect x="162.15" y="485.82" width="1.45" height="1.45" fill="#7c2a5a"/>
<rect x="165.38" y="487.46" width="1.45" height="1.45" fill="#7c2a5a"/>
<rect x="168.62" y="489.13" width="1.45" height="1.45" fill="#7c2a5a"/>
<rect x="171.92" y="487.10" width="1.45" height="1.45" fill="#7c2a5a"/>
<rect x="174.65" y="488.81" width="1.45" height="1.45" fill="#7c2a5a"/>
<rect x="177.81" y="487.97" width="1.45" height="1.45" fill="#7c2a5a"/>
<rect x="180.48" y="484.97" width="1.45" height="1.45" fill="#7c2a5a"/>
<rect x="182.91" y="488.07" width="1.45" height="1.45" fill="#7c2a5a"/>
<rect x="185.27" y="485.69" width="1.45" height="1.45" fill="#7c2a5a"/>
<rect x="188.19" y="487.20" width="1.45" height="1.45" fill="#7c2a5a"/>
<rect x="191.29" y="488.56" width="1.45" height="1.45" fill="#7c2a5a"/>
<rect x="193.72" y="487.31" width="1.45" height="1.45" fill="#7c2a5a"/>
<rect x="196.32" y="484.94" width="1.45" height="1.45" fill="#7c2a5a"/>
<rect x="198.95" y="485.31" width="1.45" height="1.45" fill="#7c2a5a"/>
<rect x="201.69" y="485.44" width="1.45" height="1.45" fill="#7c2a5a"/>
<rect x="204.10" y="484.86" width="1.45" height="1.45" fill="#7c2a5a"/>
<rect x="206.68" y="485.79" width="1.45" height="1.45" fill="#7c2a5a"/>
<rect x="209.31" y="488.81" width="1.45" height="1.45" fill="#7c2a5a"/>
<rect x="212.25" y="488.08" width="1.45" height="1.45" fill="#7c2a5a"/>
<rect x="214.96" y="487.17" width="1.45" height="1.45" fill="#7c2a5a"/>
<rect x="217.79" y="486.65" width="1.45" height="1.45" fill="#7c2a5a"/>
<rect x="220.29" y="488.46" width="1.45" height="1.45" fill="#7c2a5a"/>
<rect x="223.49" y="488.05" width="1.45" height="1.45" fill="#7c2a5a"/>
<rect x="226.60" y="485.07" width="1.45" height="1.45" fill="#7c2a5a"/>
<rect x="229.95" y="485.32" width="1.45" height="1.45" fill="#7c2a5a"/>
<rect x="232.71" y="489.58" width="1.45" height="1.45" fill="#7c2a5a"/>
<rect x="235.27" y="486.09" width="1.45" height="1.45" fill="#7c2a5a"/>
<rect x="238.48" y="486.55" width="1.45" height="1.45" fill="#7c2a5a"/>
<rect x="240.97" y="490.73" width="1.45" height="1.45" fill="#7c2a5a"/>
<rect x="243.89" y="485.45" width="1.45" height="1.45" fill="#7c2a5a"/>
<rect x="246.50" y="485.17" width="1.45" height="1.45" fill="#7c2a5a"/>
<rect x="248.81" y="487.97" width="1.45" height="1.45" fill="#7c2a5a"/>
<rect x="251.18" y="488.37" width="1.45" height="1.45" fill="#7c2a5a"/>
<rect x="254.11" y="488.56" width="1.45" height="1.45" fill="#7c2a5a"/>
<rect x="257.39" y="484.90" width="1.45" height="1.45" fill="#7c2a5a"/>
<rect x="260.45" y="486.61" width="1.45" height="1.45" fill="#7c2a5a"/>
<rect x="262.79" y="489.05" width="1.45" height="1.45" fill="#7c2a5a"/>
<rect x="265.86" y="478.71" width="1.45" height="1.45" fill="#7c2a5a"/>
<rect x="268.69" y="485.98" width="1.45" height="1.45" fill="#7c2a5a"/>
<rect x="272.09" y="488.81" width="1.45" height="1.45" fill="#7c2a5a"/>
<rect x="275.20" y="485.24" width="1.45" height="1.45" fill="#7c2a5a"/>
<rect x="278.27" y="485.71" width="1.45" height="1.45" fill="#7c2a5a"/>
<rect x="280.96" y="486.17" width="1.45" height="1.45" fill="#7c2a5a"/>
<rect x="284.22" y="487.33" width="1.45" height="1.45" fill="#7c2a5a"/>
<rect x="287.47" y="486.66" width="1.45" height="1.45" fill="#7c2a5a"/>
<rect x="290.19" y="486.61" width="1.45" height="1.45" fill="#7c2a5a"/>
<rect x="292.58" y="486.37" width="1.45" height="1.45" fill="#7c2a5a"/>
<rect x="295.85" y="485.99" width="1.45" height="1.45" fill="#7c2a5a"/>
<rect x="298.95" y="486.62" width="1.45" height="1.45" fill="#7c2a5a"/>
<rect x="302.18" y="488.77" width="1.45" height="1.45" fill="#7c2a5a"/>
<rect x="304.51" y="486.53" width="1.45" height="1.45" fill="#7c2a5a"/>
<rect x="307.06" y="486.11" width="1.45" height="1.45" fill="#7c2a5a"/>
<rect x="310.04" y="485.16" width="1.45" height="1.45" fill="#7c2a5a"/>
<rect x="312.35" y="487.83" width="1.45" height="1.45" fill="#7c2a5a"/>
<rect x="130.78" y="493.84" width="1.45" height="1.45" fill="#3a8ad0"/>
<rect x="130.78" y="492.27" width="1.45" height="1.45" fill="#e87a8a"/>
<rect x="130.78" y="490.70" width="1.45" height="1.45" fill="#3a8ad0"/>
<rect x="134.28" y="493.05" width="1.45" height="1.45" fill="#3a8ad0"/>
<rect x="134.28" y="491.48" width="1.45" height="1.45" fill="#e87a8a"/>
<rect x="134.28" y="489.91" width="1.45" height="1.45" fill="#3a8ad0"/>
<rect x="141.88" y="489.13" width="1.45" height="1.45" fill="#3a8ad0"/>
<rect x="141.88" y="487.56" width="1.45" height="1.45" fill="#3a8ad0"/>
<rect x="141.88" y="485.99" width="1.45" height="1.45" fill="#e87a8a"/>
<rect x="141.88" y="484.42" width="1.45" height="1.45" fill="#3a8ad0"/>
<rect x="145.18" y="488.34" width="1.45" height="1.45" fill="#3a8ad0"/>
<rect x="145.18" y="486.77" width="1.45" height="1.45" fill="#e87a8a"/>
<rect x="145.18" y="485.20" width="1.45" height="1.45" fill="#3a8ad0"/>
<rect x="164.88" y="487.56" width="1.45" height="1.45" fill="#3a8ad0"/>
<rect x="164.88" y="485.99" width="1.45" height="1.45" fill="#e87a8a"/>
<rect x="207.58" y="487.56" width="1.45" height="1.45" fill="#3a8ad0"/>
<rect x="207.58" y="485.99" width="1.45" height="1.45" fill="#e87a8a"/>
<rect x="207.58" y="484.42" width="1.45" height="1.45" fill="#3a8ad0"/>
<rect x="210.28" y="487.56" width="1.45" height="1.45" fill="#3a8ad0"/>
<rect x="210.28" y="485.99" width="1.45" height="1.45" fill="#e87a8a"/>
<rect x="210.28" y="484.42" width="1.45" height="1.45" fill="#3a8ad0"/>
<rect x="216.18" y="487.56" width="1.45" height="1.45" fill="#3a8ad0"/>
<rect x="216.18" y="485.99" width="1.45" height="1.45" fill="#e87a8a"/>
<rect x="219.28" y="488.34" width="1.45" height="1.45" fill="#3a8ad0"/>
<rect x="219.28" y="486.77" width="1.45" height="1.45" fill="#e87a8a"/>
<rect x="219.28" y="485.20" width="1.45" height="1.45" fill="#3a8ad0"/>
<rect x="252.88" y="486.77" width="1.45" height="1.45" fill="#3a8ad0"/>
<rect x="252.88" y="485.20" width="1.45" height="1.45" fill="#e87a8a"/>
<rect x="264.57" y="488.34" width="1.45" height="1.45" fill="#3a8ad0"/>
<rect x="264.57" y="486.77" width="1.45" height="1.45" fill="#e87a8a"/>
<rect x="264.57" y="485.20" width="1.45" height="1.45" fill="#3a8ad0"/>
<rect x="306.88" y="488.34" width="1.45" height="1.45" fill="#3a8ad0"/>
<rect x="306.88" y="486.77" width="1.45" height="1.45" fill="#e87a8a"/>
<rect x="306.88" y="485.20" width="1.45" height="1.45" fill="#3a8ad0"/>
<rect x="139.58" y="491.88" width="1.45" height="1.45" fill="#2f6fb0"/>
<rect x="139.58" y="490.54" width="1.45" height="1.45" fill="#3a8ad0"/>
<rect x="139.58" y="489.21" width="1.45" height="1.45" fill="#3a8ad0"/>
<rect x="139.58" y="487.87" width="1.45" height="1.45" fill="#2f6fb0"/>
<rect x="139.58" y="486.54" width="1.45" height="1.45" fill="#3a8ad0"/>
<rect x="139.58" y="485.20" width="1.45" height="1.45" fill="#3a8ad0"/>
<rect x="139.58" y="483.87" width="1.45" height="1.45" fill="#2f6fb0"/>
<rect x="139.58" y="482.54" width="1.45" height="1.45" fill="#3a8ad0"/>
<rect x="105.6" y="518.11875" width="210.29999999999998" height="7.624999999999986" fill="#e6e6e6" />
<line x1="105.6" y1="529.175" x2="315.9" y2="529.175" stroke="#f0f0f0" stroke-width="0.5" />
<line x1="105.6" y1="521.55" x2="315.9" y2="521.55" stroke="#f0f0f0" stroke-width="0.5" />
<line x1="105.6" y1="513.925" x2="315.9" y2="513.925" stroke="#f0f0f0" stroke-width="0.5" />
<line x1="105.6" y1="506.3" x2="315.9" y2="506.3" stroke="#f0f0f0" stroke-width="0.5" />
<line x1="104.6" y1="536.8" x2="315.9" y2="536.8" stroke="#b5b5b5" stroke-width="0.7" />
<text x="104.3" y="537.9" font-size="3.1" font-weight="normal" text-anchor="middle" fill="#999" stroke="#999" stroke-width="0.12" >0</text>
<text x="104.3" y="530.275" font-size="3.1" font-weight="normal" text-anchor="middle" fill="#999" stroke="#999" stroke-width="0.12" >1</text>
<text x="104.3" y="522.65" font-size="3.1" font-weight="normal" text-anchor="middle" fill="#999" stroke="#999" stroke-width="0.12" >2</text>
<text x="104.3" y="515.025" font-size="3.1" font-weight="normal" text-anchor="middle" fill="#999" stroke="#999" stroke-width="0.12" >3</text>
<text x="104.3" y="507.40000000000003" font-size="3.1" font-weight="normal" text-anchor="middle" fill="#999" stroke="#999" stroke-width="0.12" >4</text>
<rect x="106.28" y="527.39" width="1.45" height="1.45" fill="#7c2a5a"/>
<rect x="109.46" y="526.75" width="1.45" height="1.45" fill="#7c2a5a"/>
<rect x="112.04" y="528.95" width="1.45" height="1.45" fill="#7c2a5a"/>
<rect x="114.88" y="528.06" width="1.45" height="1.45" fill="#7c2a5a"/>
<rect x="118.26" y="526.67" width="1.45" height="1.45" fill="#7c2a5a"/>
<rect x="121.38" y="527.11" width="1.45" height="1.45" fill="#7c2a5a"/>
<rect x="124.57" y="528.50" width="1.45" height="1.45" fill="#7c2a5a"/>
<rect x="127.50" y="528.44" width="1.45" height="1.45" fill="#7c2a5a"/>
<rect x="130.99" y="528.79" width="1.45" height="1.45" fill="#7c2a5a"/>
<rect x="134.37" y="528.73" width="1.45" height="1.45" fill="#7c2a5a"/>
<rect x="137.59" y="527.85" width="1.45" height="1.45" fill="#7c2a5a"/>
<rect x="142.58" y="513.87" width="1.45" height="1.45" fill="#7c2a5a"/>
<rect x="145.88" y="520.98" width="1.45" height="1.45" fill="#7c2a5a"/>
<rect x="149.27" y="519.14" width="1.45" height="1.45" fill="#7c2a5a"/>
<rect x="152.03" y="522.55" width="1.45" height="1.45" fill="#7c2a5a"/>
<rect x="155.02" y="522.43" width="1.45" height="1.45" fill="#7c2a5a"/>
<rect x="157.37" y="522.39" width="1.45" height="1.45" fill="#7c2a5a"/>
<rect x="160.11" y="521.36" width="1.45" height="1.45" fill="#7c2a5a"/>
<rect x="162.94" y="523.91" width="1.45" height="1.45" fill="#7c2a5a"/>
<rect x="166.30" y="519.02" width="1.45" height="1.45" fill="#7c2a5a"/>
<rect x="168.99" y="521.59" width="1.45" height="1.45" fill="#7c2a5a"/>
<rect x="172.04" y="522.64" width="1.45" height="1.45" fill="#7c2a5a"/>
<rect x="174.74" y="520.97" width="1.45" height="1.45" fill="#7c2a5a"/>
<rect x="177.59" y="522.99" width="1.45" height="1.45" fill="#7c2a5a"/>
<rect x="180.36" y="520.94" width="1.45" height="1.45" fill="#7c2a5a"/>
<rect x="183.13" y="521.48" width="1.45" height="1.45" fill="#7c2a5a"/>
<rect x="185.54" y="520.81" width="1.45" height="1.45" fill="#7c2a5a"/>
<rect x="188.61" y="522.96" width="1.45" height="1.45" fill="#7c2a5a"/>
<rect x="191.29" y="524.32" width="1.45" height="1.45" fill="#7c2a5a"/>
<rect x="193.81" y="521.93" width="1.45" height="1.45" fill="#7c2a5a"/>
<rect x="197.17" y="521.10" width="1.45" height="1.45" fill="#7c2a5a"/>
<rect x="199.65" y="519.24" width="1.45" height="1.45" fill="#7c2a5a"/>
<rect x="202.16" y="519.97" width="1.45" height="1.45" fill="#7c2a5a"/>
<rect x="204.47" y="521.99" width="1.45" height="1.45" fill="#7c2a5a"/>
<rect x="207.15" y="513.90" width="1.45" height="1.45" fill="#7c2a5a"/>
<rect x="210.13" y="518.99" width="1.45" height="1.45" fill="#7c2a5a"/>
<rect x="212.98" y="523.01" width="1.45" height="1.45" fill="#7c2a5a"/>
<rect x="216.15" y="519.62" width="1.45" height="1.45" fill="#7c2a5a"/>
<rect x="218.70" y="520.90" width="1.45" height="1.45" fill="#7c2a5a"/>
<rect x="221.69" y="522.01" width="1.45" height="1.45" fill="#7c2a5a"/>
<rect x="224.97" y="522.43" width="1.45" height="1.45" fill="#7c2a5a"/>
<rect x="228.23" y="521.95" width="1.45" height="1.45" fill="#7c2a5a"/>
<rect x="231.10" y="520.19" width="1.45" height="1.45" fill="#7c2a5a"/>
<rect x="233.63" y="521.92" width="1.45" height="1.45" fill="#7c2a5a"/>
<rect x="236.69" y="520.20" width="1.45" height="1.45" fill="#7c2a5a"/>
<rect x="239.96" y="521.35" width="1.45" height="1.45" fill="#7c2a5a"/>
<rect x="242.74" y="519.00" width="1.45" height="1.45" fill="#7c2a5a"/>
<rect x="245.73" y="519.25" width="1.45" height="1.45" fill="#7c2a5a"/>
<rect x="248.86" y="521.36" width="1.45" height="1.45" fill="#7c2a5a"/>
<rect x="252.16" y="519.80" width="1.45" height="1.45" fill="#7c2a5a"/>
<rect x="254.84" y="521.57" width="1.45" height="1.45" fill="#7c2a5a"/>
<rect x="257.76" y="523.04" width="1.45" height="1.45" fill="#7c2a5a"/>
<rect x="261.05" y="519.77" width="1.45" height="1.45" fill="#7c2a5a"/>
<rect x="264.35" y="520.87" width="1.45" height="1.45" fill="#7c2a5a"/>
<rect x="267.07" y="522.70" width="1.45" height="1.45" fill="#7c2a5a"/>
<rect x="269.71" y="519.20" width="1.45" height="1.45" fill="#7c2a5a"/>
<rect x="272.61" y="520.50" width="1.45" height="1.45" fill="#7c2a5a"/>
<rect x="275.50" y="520.17" width="1.45" height="1.45" fill="#7c2a5a"/>
<rect x="278.07" y="521.41" width="1.45" height="1.45" fill="#7c2a5a"/>
<rect x="281.12" y="522.52" width="1.45" height="1.45" fill="#7c2a5a"/>
<rect x="283.76" y="520.19" width="1.45" height="1.45" fill="#7c2a5a"/>
<rect x="286.79" y="519.19" width="1.45" height="1.45" fill="#7c2a5a"/>
<rect x="289.12" y="521.07" width="1.45" height="1.45" fill="#7c2a5a"/>
<rect x="291.62" y="520.31" width="1.45" height="1.45" fill="#7c2a5a"/>
<rect x="294.18" y="521.74" width="1.45" height="1.45" fill="#7c2a5a"/>
<rect x="296.49" y="521.60" width="1.45" height="1.45" fill="#7c2a5a"/>
<rect x="299.01" y="521.30" width="1.45" height="1.45" fill="#7c2a5a"/>
<rect x="302.32" y="521.01" width="1.45" height="1.45" fill="#7c2a5a"/>
<rect x="304.80" y="521.16" width="1.45" height="1.45" fill="#7c2a5a"/>
<rect x="308.03" y="522.06" width="1.45" height="1.45" fill="#7c2a5a"/>
<rect x="311.27" y="519.62" width="1.45" height="1.45" fill="#7c2a5a"/>
<rect x="314.16" y="519.92" width="1.45" height="1.45" fill="#7c2a5a"/>
<rect x="109.78" y="525.78" width="1.45" height="1.45" fill="#3a8ad0"/>
<rect x="109.78" y="524.26" width="1.45" height="1.45" fill="#e87a8a"/>
<rect x="109.78" y="522.73" width="1.45" height="1.45" fill="#3a8ad0"/>
<rect x="130.78" y="528.45" width="1.45" height="1.45" fill="#3a8ad0"/>
<rect x="130.78" y="526.92" width="1.45" height="1.45" fill="#e87a8a"/>
<rect x="130.78" y="525.40" width="1.45" height="1.45" fill="#3a8ad0"/>
<rect x="134.28" y="527.69" width="1.45" height="1.45" fill="#3a8ad0"/>
<rect x="134.28" y="526.16" width="1.45" height="1.45" fill="#e87a8a"/>
<rect x="134.28" y="524.64" width="1.45" height="1.45" fill="#3a8ad0"/>
<rect x="141.88" y="523.11" width="1.45" height="1.45" fill="#3a8ad0"/>
<rect x="141.88" y="521.59" width="1.45" height="1.45" fill="#3a8ad0"/>
<rect x="141.88" y="520.06" width="1.45" height="1.45" fill="#e87a8a"/>
<rect x="141.88" y="518.54" width="1.45" height="1.45" fill="#3a8ad0"/>
<rect x="145.18" y="522.35" width="1.45" height="1.45" fill="#3a8ad0"/>
<rect x="145.18" y="520.82" width="1.45" height="1.45" fill="#e87a8a"/>
<rect x="145.18" y="519.30" width="1.45" height="1.45" fill="#3a8ad0"/>
<rect x="165.58" y="521.59" width="1.45" height="1.45" fill="#3a8ad0"/>
<rect x="165.58" y="520.06" width="1.45" height="1.45" fill="#e87a8a"/>
<rect x="165.58" y="518.54" width="1.45" height="1.45" fill="#3a8ad0"/>
<rect x="207.58" y="521.59" width="1.45" height="1.45" fill="#3a8ad0"/>
<rect x="207.58" y="520.06" width="1.45" height="1.45" fill="#e87a8a"/>
<rect x="210.88" y="522.35" width="1.45" height="1.45" fill="#3a8ad0"/>
<rect x="210.88" y="520.82" width="1.45" height="1.45" fill="#e87a8a"/>
<rect x="210.88" y="519.30" width="1.45" height="1.45" fill="#3a8ad0"/>
<rect x="216.78" y="520.82" width="1.45" height="1.45" fill="#3a8ad0"/>
<rect x="216.78" y="519.30" width="1.45" height="1.45" fill="#e87a8a"/>
<rect x="219.47" y="522.35" width="1.45" height="1.45" fill="#3a8ad0"/>
<rect x="219.47" y="520.82" width="1.45" height="1.45" fill="#e87a8a"/>
<rect x="219.47" y="519.30" width="1.45" height="1.45" fill="#3a8ad0"/>
<rect x="253.58" y="522.35" width="1.45" height="1.45" fill="#3a8ad0"/>
<rect x="253.58" y="520.82" width="1.45" height="1.45" fill="#3a8ad0"/>
<rect x="253.58" y="519.30" width="1.45" height="1.45" fill="#e87a8a"/>
<rect x="253.58" y="517.77" width="1.45" height="1.45" fill="#3a8ad0"/>
<rect x="264.77" y="522.35" width="1.45" height="1.45" fill="#3a8ad0"/>
<rect x="264.77" y="520.82" width="1.45" height="1.45" fill="#e87a8a"/>
<rect x="264.77" y="519.30" width="1.45" height="1.45" fill="#3a8ad0"/>
<rect x="307.57" y="521.97" width="1.45" height="1.45" fill="#3a8ad0"/>
<rect x="307.57" y="520.44" width="1.45" height="1.45" fill="#e87a8a"/>
<rect x="139.58" y="525.78" width="1.45" height="1.45" fill="#2f6fb0"/>
<rect x="139.58" y="524.48" width="1.45" height="1.45" fill="#3a8ad0"/>
<rect x="139.58" y="523.19" width="1.45" height="1.45" fill="#3a8ad0"/>
<rect x="139.58" y="521.89" width="1.45" height="1.45" fill="#2f6fb0"/>
<rect x="139.58" y="520.60" width="1.45" height="1.45" fill="#3a8ad0"/>
<rect x="139.58" y="519.30" width="1.45" height="1.45" fill="#3a8ad0"/>
<rect x="139.58" y="518.00" width="1.45" height="1.45" fill="#2f6fb0"/>
<rect x="139.58" y="516.71" width="1.45" height="1.45" fill="#3a8ad0"/>
<rect x="105.6" y="553.735" width="210.29999999999998" height="7.700000000000017" fill="#e6e6e6" />
<line x1="105.6" y1="564.9" x2="315.9" y2="564.9" stroke="#f0f0f0" stroke-width="0.5" />
<line x1="105.6" y1="557.2" x2="315.9" y2="557.2" stroke="#f0f0f0" stroke-width="0.5" />
<line x1="105.6" y1="549.5" x2="315.9" y2="549.5" stroke="#f0f0f0" stroke-width="0.5" />
<line x1="105.6" y1="541.8" x2="315.9" y2="541.8" stroke="#f0f0f0" stroke-width="0.5" />
<line x1="104.6" y1="572.6" x2="315.9" y2="572.6" stroke="#b5b5b5" stroke-width="0.7" />
<text x="104.3" y="573.7" font-size="3.1" font-weight="normal" text-anchor="middle" fill="#999" stroke="#999" stroke-width="0.12" >0</text>
<text x="104.3" y="566.0" font-size="3.1" font-weight="normal" text-anchor="middle" fill="#999" stroke="#999" stroke-width="0.12" >1</text>
<text x="104.3" y="558.3000000000001" font-size="3.1" font-weight="normal" text-anchor="middle" fill="#999" stroke="#999" stroke-width="0.12" >2</text>
<text x="104.3" y="550.6" font-size="3.1" font-weight="normal" text-anchor="middle" fill="#999" stroke="#999" stroke-width="0.12" >3</text>
<text x="104.3" y="542.9" font-size="3.1" font-weight="normal" text-anchor="middle" fill="#999" stroke="#999" stroke-width="0.12" >4</text>
<rect x="106.28" y="557.87" width="1.45" height="1.45" fill="#7c2a5a"/>
<rect x="109.50" y="555.75" width="1.45" height="1.45" fill="#7c2a5a"/>
<rect x="112.92" y="558.24" width="1.45" height="1.45" fill="#7c2a5a"/>
<rect x="115.59" y="558.43" width="1.45" height="1.45" fill="#7c2a5a"/>
<rect x="118.26" y="555.50" width="1.45" height="1.45" fill="#7c2a5a"/>
<rect x="120.82" y="556.51" width="1.45" height="1.45" fill="#7c2a5a"/>
<rect x="123.48" y="557.70" width="1.45" height="1.45" fill="#7c2a5a"/>
<rect x="126.39" y="561.08" width="1.45" height="1.45" fill="#7c2a5a"/>
<rect x="129.52" y="564.88" width="1.45" height="1.45" fill="#7c2a5a"/>
<rect x="132.26" y="564.27" width="1.45" height="1.45" fill="#7c2a5a"/>
<rect x="135.70" y="561.20" width="1.45" height="1.45" fill="#7c2a5a"/>
<rect x="142.58" y="555.29" width="1.45" height="1.45" fill="#7c2a5a"/>
<rect x="145.92" y="555.42" width="1.45" height="1.45" fill="#7c2a5a"/>
<rect x="149.15" y="556.72" width="1.45" height="1.45" fill="#7c2a5a"/>
<rect x="152.07" y="556.97" width="1.45" height="1.45" fill="#7c2a5a"/>
<rect x="154.85" y="557.46" width="1.45" height="1.45" fill="#7c2a5a"/>
<rect x="158.05" y="555.40" width="1.45" height="1.45" fill="#7c2a5a"/>
<rect x="161.11" y="556.44" width="1.45" height="1.45" fill="#7c2a5a"/>
<rect x="163.56" y="555.92" width="1.45" height="1.45" fill="#7c2a5a"/>
<rect x="166.05" y="557.93" width="1.45" height="1.45" fill="#7c2a5a"/>
<rect x="168.63" y="556.84" width="1.45" height="1.45" fill="#7c2a5a"/>
<rect x="171.37" y="558.23" width="1.45" height="1.45" fill="#7c2a5a"/>
<rect x="173.92" y="557.79" width="1.45" height="1.45" fill="#7c2a5a"/>
<rect x="176.63" y="558.47" width="1.45" height="1.45" fill="#7c2a5a"/>
<rect x="179.98" y="557.13" width="1.45" height="1.45" fill="#7c2a5a"/>
<rect x="183.30" y="558.60" width="1.45" height="1.45" fill="#7c2a5a"/>
<rect x="186.49" y="555.24" width="1.45" height="1.45" fill="#7c2a5a"/>
<rect x="188.97" y="557.03" width="1.45" height="1.45" fill="#7c2a5a"/>
<rect x="192.24" y="555.38" width="1.45" height="1.45" fill="#7c2a5a"/>
<rect x="195.48" y="557.20" width="1.45" height="1.45" fill="#7c2a5a"/>
<rect x="197.93" y="554.67" width="1.45" height="1.45" fill="#7c2a5a"/>
<rect x="201.03" y="557.89" width="1.45" height="1.45" fill="#7c2a5a"/>
<rect x="203.96" y="556.28" width="1.45" height="1.45" fill="#7c2a5a"/>
<rect x="207.06" y="557.34" width="1.45" height="1.45" fill="#7c2a5a"/>
<rect x="209.55" y="555.89" width="1.45" height="1.45" fill="#7c2a5a"/>
<rect x="212.09" y="558.49" width="1.45" height="1.45" fill="#7c2a5a"/>
<rect x="215.01" y="560.03" width="1.45" height="1.45" fill="#7c2a5a"/>
<rect x="217.68" y="548.01" width="1.45" height="1.45" fill="#7c2a5a"/>
<rect x="220.12" y="557.51" width="1.45" height="1.45" fill="#7c2a5a"/>
<rect x="223.07" y="558.46" width="1.45" height="1.45" fill="#7c2a5a"/>
<rect x="225.78" y="549.03" width="1.45" height="1.45" fill="#7c2a5a"/>
<rect x="228.62" y="554.68" width="1.45" height="1.45" fill="#7c2a5a"/>
<rect x="231.44" y="555.95" width="1.45" height="1.45" fill="#7c2a5a"/>
<rect x="233.78" y="556.66" width="1.45" height="1.45" fill="#7c2a5a"/>
<rect x="236.89" y="557.69" width="1.45" height="1.45" fill="#7c2a5a"/>
<rect x="240.13" y="557.69" width="1.45" height="1.45" fill="#7c2a5a"/>
<rect x="242.82" y="557.75" width="1.45" height="1.45" fill="#7c2a5a"/>
<rect x="245.34" y="560.10" width="1.45" height="1.45" fill="#7c2a5a"/>
<rect x="247.74" y="555.57" width="1.45" height="1.45" fill="#7c2a5a"/>
<rect x="250.04" y="555.51" width="1.45" height="1.45" fill="#7c2a5a"/>
<rect x="252.87" y="556.44" width="1.45" height="1.45" fill="#7c2a5a"/>
<rect x="255.49" y="556.94" width="1.45" height="1.45" fill="#7c2a5a"/>
<rect x="258.74" y="558.31" width="1.45" height="1.45" fill="#7c2a5a"/>
<rect x="261.28" y="557.50" width="1.45" height="1.45" fill="#7c2a5a"/>
<rect x="263.61" y="558.24" width="1.45" height="1.45" fill="#7c2a5a"/>
<rect x="266.40" y="555.07" width="1.45" height="1.45" fill="#7c2a5a"/>
<rect x="268.75" y="556.52" width="1.45" height="1.45" fill="#7c2a5a"/>
<rect x="271.93" y="557.42" width="1.45" height="1.45" fill="#7c2a5a"/>
<rect x="274.83" y="549.16" width="1.45" height="1.45" fill="#7c2a5a"/>
<rect x="278.09" y="558.15" width="1.45" height="1.45" fill="#7c2a5a"/>
<rect x="280.80" y="557.32" width="1.45" height="1.45" fill="#7c2a5a"/>
<rect x="283.33" y="555.74" width="1.45" height="1.45" fill="#7c2a5a"/>
<rect x="286.66" y="556.58" width="1.45" height="1.45" fill="#7c2a5a"/>
<rect x="289.45" y="556.36" width="1.45" height="1.45" fill="#7c2a5a"/>
<rect x="292.67" y="554.98" width="1.45" height="1.45" fill="#7c2a5a"/>
<rect x="295.12" y="556.52" width="1.45" height="1.45" fill="#7c2a5a"/>
<rect x="298.01" y="557.52" width="1.45" height="1.45" fill="#7c2a5a"/>
<rect x="300.63" y="560.66" width="1.45" height="1.45" fill="#7c2a5a"/>
<rect x="303.73" y="558.33" width="1.45" height="1.45" fill="#7c2a5a"/>
<rect x="306.99" y="554.55" width="1.45" height="1.45" fill="#7c2a5a"/>
<rect x="309.75" y="556.15" width="1.45" height="1.45" fill="#7c2a5a"/>
<rect x="312.84" y="557.56" width="1.45" height="1.45" fill="#7c2a5a"/>
<rect x="109.78" y="561.10" width="1.45" height="1.45" fill="#3a8ad0"/>
<rect x="109.78" y="559.55" width="1.45" height="1.45" fill="#e87a8a"/>
<rect x="109.78" y="558.01" width="1.45" height="1.45" fill="#3a8ad0"/>
<rect x="129.78" y="561.87" width="1.45" height="1.45" fill="#3a8ad0"/>
<rect x="129.78" y="560.32" width="1.45" height="1.45" fill="#e87a8a"/>
<rect x="129.78" y="558.78" width="1.45" height="1.45" fill="#3a8ad0"/>
<rect x="133.08" y="564.17" width="1.45" height="1.45" fill="#3a8ad0"/>
<rect x="133.08" y="562.63" width="1.45" height="1.45" fill="#e87a8a"/>
<rect x="133.08" y="561.10" width="1.45" height="1.45" fill="#3a8ad0"/>
<rect x="141.08" y="558.78" width="1.45" height="1.45" fill="#3a8ad0"/>
<rect x="141.08" y="557.25" width="1.45" height="1.45" fill="#3a8ad0"/>
<rect x="141.08" y="555.70" width="1.45" height="1.45" fill="#e87a8a"/>
<rect x="141.08" y="554.16" width="1.45" height="1.45" fill="#3a8ad0"/>
<rect x="145.88" y="558.78" width="1.45" height="1.45" fill="#3a8ad0"/>
<rect x="145.88" y="557.25" width="1.45" height="1.45" fill="#e87a8a"/>
<rect x="145.88" y="555.70" width="1.45" height="1.45" fill="#3a8ad0"/>
<rect x="165.18" y="556.48" width="1.45" height="1.45" fill="#3a8ad0"/>
<rect x="165.18" y="554.93" width="1.45" height="1.45" fill="#e87a8a"/>
<rect x="166.78" y="557.25" width="1.45" height="1.45" fill="#3a8ad0"/>
<rect x="166.78" y="555.70" width="1.45" height="1.45" fill="#e87a8a"/>
<rect x="206.97" y="556.48" width="1.45" height="1.45" fill="#3a8ad0"/>
<rect x="206.97" y="554.93" width="1.45" height="1.45" fill="#3a8ad0"/>
<rect x="206.97" y="553.39" width="1.45" height="1.45" fill="#e87a8a"/>
<rect x="206.97" y="551.85" width="1.45" height="1.45" fill="#3a8ad0"/>
<rect x="210.18" y="556.48" width="1.45" height="1.45" fill="#3a8ad0"/>
<rect x="210.18" y="554.93" width="1.45" height="1.45" fill="#e87a8a"/>
<rect x="210.18" y="553.39" width="1.45" height="1.45" fill="#3a8ad0"/>
<rect x="216.68" y="555.70" width="1.45" height="1.45" fill="#3a8ad0"/>
<rect x="216.68" y="554.16" width="1.45" height="1.45" fill="#e87a8a"/>
<rect x="253.58" y="557.25" width="1.45" height="1.45" fill="#3a8ad0"/>
<rect x="253.58" y="555.70" width="1.45" height="1.45" fill="#e87a8a"/>
<rect x="253.58" y="554.16" width="1.45" height="1.45" fill="#3a8ad0"/>
<rect x="264.88" y="557.25" width="1.45" height="1.45" fill="#3a8ad0"/>
<rect x="264.88" y="555.70" width="1.45" height="1.45" fill="#e87a8a"/>
<rect x="264.88" y="554.16" width="1.45" height="1.45" fill="#3a8ad0"/>
<rect x="266.47" y="557.25" width="1.45" height="1.45" fill="#3a8ad0"/>
<rect x="266.47" y="555.70" width="1.45" height="1.45" fill="#e87a8a"/>
<rect x="139.58" y="561.48" width="1.45" height="1.45" fill="#2f6fb0"/>
<rect x="139.58" y="560.17" width="1.45" height="1.45" fill="#3a8ad0"/>
<rect x="139.58" y="558.86" width="1.45" height="1.45" fill="#3a8ad0"/>
<rect x="139.58" y="557.55" width="1.45" height="1.45" fill="#2f6fb0"/>
<rect x="139.58" y="556.24" width="1.45" height="1.45" fill="#3a8ad0"/>
<rect x="139.58" y="554.93" width="1.45" height="1.45" fill="#3a8ad0"/>
<rect x="139.58" y="553.63" width="1.45" height="1.45" fill="#2f6fb0"/>
<rect x="139.58" y="552.32" width="1.45" height="1.45" fill="#3a8ad0"/>
<rect x="105.6" y="589.49625" width="210.29999999999998" height="7.674999999999983" fill="#e6e6e6" />
<line x1="105.6" y1="600.625" x2="315.9" y2="600.625" stroke="#f0f0f0" stroke-width="0.5" />
<line x1="105.6" y1="592.95" x2="315.9" y2="592.95" stroke="#f0f0f0" stroke-width="0.5" />
<line x1="105.6" y1="585.275" x2="315.9" y2="585.275" stroke="#f0f0f0" stroke-width="0.5" />
<line x1="105.6" y1="577.6" x2="315.9" y2="577.6" stroke="#f0f0f0" stroke-width="0.5" />
<line x1="104.6" y1="608.3" x2="315.9" y2="608.3" stroke="#b5b5b5" stroke-width="0.7" />
<text x="104.3" y="609.4" font-size="3.1" font-weight="normal" text-anchor="middle" fill="#999" stroke="#999" stroke-width="0.12" >0</text>
<text x="104.3" y="601.725" font-size="3.1" font-weight="normal" text-anchor="middle" fill="#999" stroke="#999" stroke-width="0.12" >1</text>
<text x="104.3" y="594.0500000000001" font-size="3.1" font-weight="normal" text-anchor="middle" fill="#999" stroke="#999" stroke-width="0.12" >2</text>
<text x="104.3" y="586.375" font-size="3.1" font-weight="normal" text-anchor="middle" fill="#999" stroke="#999" stroke-width="0.12" >3</text>
<text x="104.3" y="578.7" font-size="3.1" font-weight="normal" text-anchor="middle" fill="#999" stroke="#999" stroke-width="0.12" >4</text>
<rect x="106.28" y="594.38" width="1.45" height="1.45" fill="#7c2a5a"/>
<rect x="109.52" y="591.66" width="1.45" height="1.45" fill="#7c2a5a"/>
<rect x="113.05" y="593.56" width="1.45" height="1.45" fill="#7c2a5a"/>
<rect x="115.75" y="591.25" width="1.45" height="1.45" fill="#7c2a5a"/>
<rect x="118.94" y="593.40" width="1.45" height="1.45" fill="#7c2a5a"/>
<rect x="122.16" y="592.93" width="1.45" height="1.45" fill="#7c2a5a"/>
<rect x="125.50" y="594.32" width="1.45" height="1.45" fill="#7c2a5a"/>
<rect x="128.17" y="596.98" width="1.45" height="1.45" fill="#7c2a5a"/>
<rect x="131.00" y="600.42" width="1.45" height="1.45" fill="#7c2a5a"/>
<rect x="134.36" y="598.43" width="1.45" height="1.45" fill="#7c2a5a"/>
<rect x="136.94" y="598.86" width="1.45" height="1.45" fill="#7c2a5a"/>
<rect x="142.58" y="593.83" width="1.45" height="1.45" fill="#7c2a5a"/>
<rect x="145.01" y="593.10" width="1.45" height="1.45" fill="#7c2a5a"/>
<rect x="147.54" y="590.40" width="1.45" height="1.45" fill="#7c2a5a"/>
<rect x="150.92" y="592.68" width="1.45" height="1.45" fill="#7c2a5a"/>
<rect x="154.18" y="591.63" width="1.45" height="1.45" fill="#7c2a5a"/>
<rect x="157.13" y="591.85" width="1.45" height="1.45" fill="#7c2a5a"/>
<rect x="159.54" y="590.83" width="1.45" height="1.45" fill="#7c2a5a"/>
<rect x="162.05" y="592.62" width="1.45" height="1.45" fill="#7c2a5a"/>
<rect x="165.23" y="592.41" width="1.45" height="1.45" fill="#7c2a5a"/>
<rect x="168.43" y="594.15" width="1.45" height="1.45" fill="#7c2a5a"/>
<rect x="170.76" y="591.40" width="1.45" height="1.45" fill="#7c2a5a"/>
<rect x="173.64" y="594.13" width="1.45" height="1.45" fill="#7c2a5a"/>
<rect x="176.69" y="592.27" width="1.45" height="1.45" fill="#7c2a5a"/>
<rect x="179.52" y="592.68" width="1.45" height="1.45" fill="#7c2a5a"/>
<rect x="181.93" y="592.52" width="1.45" height="1.45" fill="#7c2a5a"/>
<rect x="185.18" y="596.23" width="1.45" height="1.45" fill="#7c2a5a"/>
<rect x="188.25" y="584.24" width="1.45" height="1.45" fill="#7c2a5a"/>
<rect x="191.59" y="592.74" width="1.45" height="1.45" fill="#7c2a5a"/>
<rect x="194.52" y="590.56" width="1.45" height="1.45" fill="#7c2a5a"/>
<rect x="197.15" y="593.73" width="1.45" height="1.45" fill="#7c2a5a"/>
<rect x="199.97" y="593.45" width="1.45" height="1.45" fill="#7c2a5a"/>
<rect x="202.31" y="593.21" width="1.45" height="1.45" fill="#7c2a5a"/>
<rect x="205.25" y="593.33" width="1.45" height="1.45" fill="#7c2a5a"/>
<rect x="207.94" y="596.22" width="1.45" height="1.45" fill="#7c2a5a"/>
<rect x="210.46" y="593.56" width="1.45" height="1.45" fill="#7c2a5a"/>
<rect x="213.05" y="593.48" width="1.45" height="1.45" fill="#7c2a5a"/>
<rect x="216.36" y="593.30" width="1.45" height="1.45" fill="#7c2a5a"/>
<rect x="219.07" y="592.16" width="1.45" height="1.45" fill="#7c2a5a"/>
<rect x="222.41" y="591.33" width="1.45" height="1.45" fill="#7c2a5a"/>
<rect x="225.63" y="592.98" width="1.45" height="1.45" fill="#7c2a5a"/>
<rect x="228.99" y="592.22" width="1.45" height="1.45" fill="#7c2a5a"/>
<rect x="231.63" y="590.66" width="1.45" height="1.45" fill="#7c2a5a"/>
<rect x="234.21" y="590.59" width="1.45" height="1.45" fill="#7c2a5a"/>
<rect x="236.88" y="593.42" width="1.45" height="1.45" fill="#7c2a5a"/>
<rect x="239.40" y="591.61" width="1.45" height="1.45" fill="#7c2a5a"/>
<rect x="241.98" y="592.64" width="1.45" height="1.45" fill="#7c2a5a"/>
<rect x="244.70" y="591.21" width="1.45" height="1.45" fill="#7c2a5a"/>
<rect x="247.41" y="592.73" width="1.45" height="1.45" fill="#7c2a5a"/>
<rect x="249.95" y="593.91" width="1.45" height="1.45" fill="#7c2a5a"/>
<rect x="252.41" y="591.71" width="1.45" height="1.45" fill="#7c2a5a"/>
<rect x="255.43" y="591.76" width="1.45" height="1.45" fill="#7c2a5a"/>
<rect x="258.75" y="591.76" width="1.45" height="1.45" fill="#7c2a5a"/>
<rect x="261.10" y="592.81" width="1.45" height="1.45" fill="#7c2a5a"/>
<rect x="263.92" y="590.59" width="1.45" height="1.45" fill="#7c2a5a"/>
<rect x="266.29" y="591.66" width="1.45" height="1.45" fill="#7c2a5a"/>
<rect x="269.18" y="594.12" width="1.45" height="1.45" fill="#7c2a5a"/>
<rect x="271.95" y="590.39" width="1.45" height="1.45" fill="#7c2a5a"/>
<rect x="275.16" y="595.23" width="1.45" height="1.45" fill="#7c2a5a"/>
<rect x="277.80" y="593.96" width="1.45" height="1.45" fill="#7c2a5a"/>
<rect x="280.75" y="594.51" width="1.45" height="1.45" fill="#7c2a5a"/>
<rect x="283.91" y="592.44" width="1.45" height="1.45" fill="#7c2a5a"/>
<rect x="286.54" y="590.43" width="1.45" height="1.45" fill="#7c2a5a"/>
<rect x="289.59" y="583.79" width="1.45" height="1.45" fill="#7c2a5a"/>
<rect x="292.15" y="590.35" width="1.45" height="1.45" fill="#7c2a5a"/>
<rect x="295.44" y="590.92" width="1.45" height="1.45" fill="#7c2a5a"/>
<rect x="298.23" y="593.07" width="1.45" height="1.45" fill="#7c2a5a"/>
<rect x="300.56" y="593.95" width="1.45" height="1.45" fill="#7c2a5a"/>
<rect x="303.75" y="591.55" width="1.45" height="1.45" fill="#7c2a5a"/>
<rect x="306.62" y="591.00" width="1.45" height="1.45" fill="#7c2a5a"/>
<rect x="309.91" y="594.23" width="1.45" height="1.45" fill="#7c2a5a"/>
<rect x="312.85" y="591.17" width="1.45" height="1.45" fill="#7c2a5a"/>
<rect x="110.58" y="592.99" width="1.45" height="1.45" fill="#3a8ad0"/>
<rect x="110.58" y="591.46" width="1.45" height="1.45" fill="#e87a8a"/>
<rect x="110.58" y="589.92" width="1.45" height="1.45" fill="#3a8ad0"/>
<rect x="129.78" y="599.90" width="1.45" height="1.45" fill="#3a8ad0"/>
<rect x="129.78" y="598.36" width="1.45" height="1.45" fill="#e87a8a"/>
<rect x="129.78" y="596.83" width="1.45" height="1.45" fill="#3a8ad0"/>
<rect x="131.38" y="599.13" width="1.45" height="1.45" fill="#3a8ad0"/>
<rect x="131.38" y="597.60" width="1.45" height="1.45" fill="#e87a8a"/>
<rect x="131.38" y="596.06" width="1.45" height="1.45" fill="#3a8ad0"/>
<rect x="141.08" y="594.53" width="1.45" height="1.45" fill="#3a8ad0"/>
<rect x="141.08" y="592.99" width="1.45" height="1.45" fill="#3a8ad0"/>
<rect x="141.08" y="591.46" width="1.45" height="1.45" fill="#e87a8a"/>
<rect x="141.08" y="589.92" width="1.45" height="1.45" fill="#3a8ad0"/>
<rect x="144.28" y="594.53" width="1.45" height="1.45" fill="#3a8ad0"/>
<rect x="144.28" y="592.99" width="1.45" height="1.45" fill="#e87a8a"/>
<rect x="144.28" y="591.46" width="1.45" height="1.45" fill="#3a8ad0"/>
<rect x="147.47" y="594.53" width="1.45" height="1.45" fill="#3a8ad0"/>
<rect x="147.47" y="592.99" width="1.45" height="1.45" fill="#e87a8a"/>
<rect x="166.78" y="592.23" width="1.45" height="1.45" fill="#3a8ad0"/>
<rect x="166.78" y="590.69" width="1.45" height="1.45" fill="#e87a8a"/>
<rect x="168.38" y="592.99" width="1.45" height="1.45" fill="#3a8ad0"/>
<rect x="168.38" y="591.46" width="1.45" height="1.45" fill="#e87a8a"/>
<rect x="206.97" y="592.99" width="1.45" height="1.45" fill="#3a8ad0"/>
<rect x="206.97" y="591.46" width="1.45" height="1.45" fill="#e87a8a"/>
<rect x="206.97" y="589.92" width="1.45" height="1.45" fill="#3a8ad0"/>
<rect x="210.28" y="593.76" width="1.45" height="1.45" fill="#3a8ad0"/>
<rect x="210.28" y="592.23" width="1.45" height="1.45" fill="#e87a8a"/>
<rect x="210.28" y="590.69" width="1.45" height="1.45" fill="#3a8ad0"/>
<rect x="211.78" y="592.99" width="1.45" height="1.45" fill="#3a8ad0"/>
<rect x="211.78" y="591.46" width="1.45" height="1.45" fill="#e87a8a"/>
<rect x="253.58" y="593.76" width="1.45" height="1.45" fill="#3a8ad0"/>
<rect x="253.58" y="592.23" width="1.45" height="1.45" fill="#e87a8a"/>
<rect x="253.58" y="590.69" width="1.45" height="1.45" fill="#3a8ad0"/>
<rect x="264.88" y="592.99" width="1.45" height="1.45" fill="#3a8ad0"/>
<rect x="264.88" y="591.46" width="1.45" height="1.45" fill="#e87a8a"/>
<rect x="264.88" y="589.92" width="1.45" height="1.45" fill="#3a8ad0"/>
<rect x="139.58" y="597.21" width="1.45" height="1.45" fill="#2f6fb0"/>
<rect x="139.58" y="595.91" width="1.45" height="1.45" fill="#3a8ad0"/>
<rect x="139.58" y="594.60" width="1.45" height="1.45" fill="#3a8ad0"/>
<rect x="139.58" y="593.30" width="1.45" height="1.45" fill="#2f6fb0"/>
<rect x="139.58" y="591.99" width="1.45" height="1.45" fill="#3a8ad0"/>
<rect x="139.58" y="590.69" width="1.45" height="1.45" fill="#3a8ad0"/>
<rect x="139.58" y="589.39" width="1.45" height="1.45" fill="#2f6fb0"/>
<rect x="139.58" y="588.08" width="1.45" height="1.45" fill="#3a8ad0"/>
<rect x="105.6" y="661.6775" width="210.29999999999998" height="6.050000000000011" fill="#e6e6e6" />
<line x1="105.6" y1="670.45" x2="315.9" y2="670.45" stroke="#f0f0f0" stroke-width="0.5" />
<line x1="105.6" y1="664.4" x2="315.9" y2="664.4" stroke="#f0f0f0" stroke-width="0.5" />
<line x1="105.6" y1="658.3499999999999" x2="315.9" y2="658.3499999999999" stroke="#f0f0f0" stroke-width="0.5" />
<line x1="105.6" y1="652.3" x2="315.9" y2="652.3" stroke="#f0f0f0" stroke-width="0.5" />
<line x1="104.6" y1="676.5" x2="315.9" y2="676.5" stroke="#b5b5b5" stroke-width="0.7" />
<text x="104.3" y="677.6" font-size="3.1" font-weight="normal" text-anchor="middle" fill="#999" stroke="#999" stroke-width="0.12" >0</text>
<text x="104.3" y="671.5500000000001" font-size="3.1" font-weight="normal" text-anchor="middle" fill="#999" stroke="#999" stroke-width="0.12" >1</text>
<text x="104.3" y="665.5" font-size="3.1" font-weight="normal" text-anchor="middle" fill="#999" stroke="#999" stroke-width="0.12" >2</text>
<text x="104.3" y="659.4499999999999" font-size="3.1" font-weight="normal" text-anchor="middle" fill="#999" stroke="#999" stroke-width="0.12" >3</text>
<text x="104.3" y="653.4" font-size="3.1" font-weight="normal" text-anchor="middle" fill="#999" stroke="#999" stroke-width="0.12" >4</text>
<rect x="106.40" y="665.22" width="1.2" height="1.2" fill="#7c2a5a"/>
<rect x="110.63" y="663.23" width="1.2" height="1.2" fill="#7c2a5a"/>
<rect x="114.60" y="665.00" width="1.2" height="1.2" fill="#7c2a5a"/>
<rect x="118.95" y="662.50" width="1.2" height="1.2" fill="#7c2a5a"/>
<rect x="122.97" y="663.78" width="1.2" height="1.2" fill="#7c2a5a"/>
<rect x="126.65" y="665.90" width="1.2" height="1.2" fill="#7c2a5a"/>
<rect x="130.50" y="663.44" width="1.2" height="1.2" fill="#7c2a5a"/>
<rect x="133.98" y="662.56" width="1.2" height="1.2" fill="#7c2a5a"/>
<rect x="137.66" y="664.93" width="1.2" height="1.2" fill="#7c2a5a"/>
<rect x="141.11" y="661.69" width="1.2" height="1.2" fill="#7c2a5a"/>
<rect x="145.40" y="662.21" width="1.2" height="1.2" fill="#7c2a5a"/>
<rect x="149.54" y="665.77" width="1.2" height="1.2" fill="#7c2a5a"/>
<rect x="153.33" y="663.81" width="1.2" height="1.2" fill="#7c2a5a"/>
<rect x="156.87" y="661.89" width="1.2" height="1.2" fill="#7c2a5a"/>
<rect x="160.71" y="665.26" width="1.2" height="1.2" fill="#7c2a5a"/>
<rect x="165.09" y="665.39" width="1.2" height="1.2" fill="#7c2a5a"/>
<rect x="169.61" y="664.00" width="1.2" height="1.2" fill="#7c2a5a"/>
<rect x="173.67" y="664.47" width="1.2" height="1.2" fill="#7c2a5a"/>
<rect x="177.65" y="665.13" width="1.2" height="1.2" fill="#7c2a5a"/>
<rect x="181.09" y="662.25" width="1.2" height="1.2" fill="#7c2a5a"/>
<rect x="184.78" y="662.61" width="1.2" height="1.2" fill="#7c2a5a"/>
<rect x="188.43" y="661.81" width="1.2" height="1.2" fill="#7c2a5a"/>
<rect x="192.90" y="662.72" width="1.2" height="1.2" fill="#7c2a5a"/>
<rect x="197.21" y="663.46" width="1.2" height="1.2" fill="#7c2a5a"/>
<rect x="201.49" y="665.40" width="1.2" height="1.2" fill="#7c2a5a"/>
<rect x="205.46" y="662.42" width="1.2" height="1.2" fill="#7c2a5a"/>
<rect x="209.10" y="662.01" width="1.2" height="1.2" fill="#7c2a5a"/>
<rect x="213.57" y="664.18" width="1.2" height="1.2" fill="#7c2a5a"/>
<rect x="217.41" y="664.01" width="1.2" height="1.2" fill="#7c2a5a"/>
<rect x="221.27" y="661.70" width="1.2" height="1.2" fill="#7c2a5a"/>
<rect x="225.13" y="665.80" width="1.2" height="1.2" fill="#7c2a5a"/>
<rect x="228.65" y="662.88" width="1.2" height="1.2" fill="#7c2a5a"/>
<rect x="233.24" y="663.82" width="1.2" height="1.2" fill="#7c2a5a"/>
<rect x="237.23" y="663.59" width="1.2" height="1.2" fill="#7c2a5a"/>
<rect x="241.52" y="664.98" width="1.2" height="1.2" fill="#7c2a5a"/>
<rect x="245.66" y="663.56" width="1.2" height="1.2" fill="#7c2a5a"/>
<rect x="249.80" y="665.15" width="1.2" height="1.2" fill="#7c2a5a"/>
<rect x="253.41" y="664.44" width="1.2" height="1.2" fill="#7c2a5a"/>
<rect x="257.92" y="664.45" width="1.2" height="1.2" fill="#7c2a5a"/>
<rect x="262.04" y="664.62" width="1.2" height="1.2" fill="#7c2a5a"/>
<rect x="265.56" y="665.64" width="1.2" height="1.2" fill="#7c2a5a"/>
<rect x="269.94" y="662.63" width="1.2" height="1.2" fill="#7c2a5a"/>
<rect x="273.79" y="663.02" width="1.2" height="1.2" fill="#7c2a5a"/>
<rect x="278.00" y="662.11" width="1.2" height="1.2" fill="#7c2a5a"/>
<rect x="282.55" y="664.19" width="1.2" height="1.2" fill="#7c2a5a"/>
<rect x="287.13" y="661.85" width="1.2" height="1.2" fill="#7c2a5a"/>
<rect x="291.24" y="662.18" width="1.2" height="1.2" fill="#7c2a5a"/>
<rect x="295.23" y="664.33" width="1.2" height="1.2" fill="#7c2a5a"/>
<rect x="298.93" y="662.21" width="1.2" height="1.2" fill="#7c2a5a"/>
<rect x="302.52" y="665.62" width="1.2" height="1.2" fill="#7c2a5a"/>
<rect x="306.89" y="662.64" width="1.2" height="1.2" fill="#7c2a5a"/>
<rect x="310.87" y="662.37" width="1.2" height="1.2" fill="#7c2a5a"/>
<rect x="261.45" y="666.27" width="1.1" height="1.1" fill="#3a8ad0"/>
<rect x="261.45" y="664.76" width="1.1" height="1.1" fill="#3a8ad0"/>
<rect x="261.45" y="663.25" width="1.1" height="1.1" fill="#3a8ad0"/>
<rect x="265.45" y="666.27" width="1.1" height="1.1" fill="#3a8ad0"/>
<rect x="265.45" y="664.76" width="1.1" height="1.1" fill="#3a8ad0"/>
<rect x="265.45" y="663.25" width="1.1" height="1.1" fill="#3a8ad0"/>
<rect x="269.45" y="666.27" width="1.1" height="1.1" fill="#3a8ad0"/>
<rect x="269.45" y="664.76" width="1.1" height="1.1" fill="#3a8ad0"/>
<rect x="269.45" y="663.25" width="1.1" height="1.1" fill="#3a8ad0"/>
<rect x="273.45" y="666.27" width="1.1" height="1.1" fill="#3a8ad0"/>
<rect x="273.45" y="664.76" width="1.1" height="1.1" fill="#3a8ad0"/>
<rect x="273.45" y="663.25" width="1.1" height="1.1" fill="#3a8ad0"/>
<rect x="278.45" y="666.27" width="1.1" height="1.1" fill="#3a8ad0"/>
<rect x="278.45" y="664.76" width="1.1" height="1.1" fill="#3a8ad0"/>
<rect x="278.45" y="663.25" width="1.1" height="1.1" fill="#3a8ad0"/>
<rect x="282.45" y="666.27" width="1.1" height="1.1" fill="#3a8ad0"/>
<rect x="282.45" y="664.76" width="1.1" height="1.1" fill="#3a8ad0"/>
<rect x="282.45" y="663.25" width="1.1" height="1.1" fill="#3a8ad0"/>
<rect x="287.45" y="666.27" width="1.1" height="1.1" fill="#3a8ad0"/>
<rect x="287.45" y="664.76" width="1.1" height="1.1" fill="#3a8ad0"/>
<rect x="287.45" y="663.25" width="1.1" height="1.1" fill="#3a8ad0"/>
<rect x="292.45" y="666.27" width="1.1" height="1.1" fill="#3a8ad0"/>
<rect x="292.45" y="664.76" width="1.1" height="1.1" fill="#3a8ad0"/>
<rect x="292.45" y="663.25" width="1.1" height="1.1" fill="#3a8ad0"/>
<line x1="140.3" y1="421.9" x2="140.3" y2="609" stroke="#111" stroke-width="0.9" stroke-dasharray="1.1,1.2"/>
<path d="M133.6,410.2 L136.2,408.6 L137.9,413.2 L136.9,413.6 L140.2,421.4 L138.9,421.6 L135.3,415.6 L136.3,415.1 Z" fill="#1a1a1a" stroke="#1a1a1a" stroke-width="0.5" stroke-linejoin="round"/>
<line x1="107.4" y1="610" x2="107.4" y2="624.4" stroke="#858585" stroke-width="1.0" stroke-dasharray="1.72,0.36"/>
<line x1="110.0" y1="610" x2="110.0" y2="617.0" stroke="#858585" stroke-width="1.0" stroke-dasharray="1.29,0.34"/>
<line x1="112.1" y1="610" x2="112.1" y2="615.9" stroke="#858585" stroke-width="1.0" stroke-dasharray="1.53,0.29"/>
<line x1="114.8" y1="610" x2="114.8" y2="629.5" stroke="#858585" stroke-width="1.0" stroke-dasharray="1.69,0.28"/>
<line x1="116.6" y1="610" x2="116.6" y2="617.4" stroke="#858585" stroke-width="1.0" stroke-dasharray="1.90,0.31"/>
<line x1="119.3" y1="610" x2="119.3" y2="619.6" stroke="#858585" stroke-width="1.0" stroke-dasharray="1.36,0.44"/>
<line x1="121.5" y1="610" x2="121.5" y2="617.9" stroke="#858585" stroke-width="1.0" stroke-dasharray="1.25,0.31"/>
<line x1="123.9" y1="610" x2="123.9" y2="619.7" stroke="#858585" stroke-width="1.0" stroke-dasharray="1.48,0.31"/>
<line x1="126.4" y1="610" x2="126.4" y2="628.5" stroke="#858585" stroke-width="1.0" stroke-dasharray="1.98,0.25"/>
<line x1="129.0" y1="610" x2="129.0" y2="615.1" stroke="#858585" stroke-width="1.0" stroke-dasharray="1.50,0.42"/>
<line x1="131.2" y1="610" x2="131.2" y2="616.7" stroke="#858585" stroke-width="1.0" stroke-dasharray="1.80,0.44"/>
<line x1="133.9" y1="610" x2="133.9" y2="617.5" stroke="#858585" stroke-width="1.0" stroke-dasharray="1.29,0.40"/>
<line x1="136.5" y1="610" x2="136.5" y2="617.4" stroke="#858585" stroke-width="1.0" stroke-dasharray="1.37,0.35"/>
<line x1="138.7" y1="610" x2="138.7" y2="614.2" stroke="#858585" stroke-width="1.0" stroke-dasharray="1.45,0.31"/>
<line x1="140.7" y1="610" x2="140.7" y2="616.0" stroke="#858585" stroke-width="1.0" stroke-dasharray="1.33,0.26"/>
<line x1="143.5" y1="610" x2="143.5" y2="619.9" stroke="#858585" stroke-width="1.0" stroke-dasharray="1.48,0.30"/>
<line x1="145.9" y1="610" x2="145.9" y2="646.5" stroke="#858585" stroke-width="1.0" stroke-dasharray="1.47,0.29"/>
<line x1="148.7" y1="610" x2="148.7" y2="615.9" stroke="#858585" stroke-width="1.0" stroke-dasharray="1.29,0.34"/>
<line x1="150.7" y1="610" x2="150.7" y2="639.5" stroke="#858585" stroke-width="1.0" stroke-dasharray="1.88,0.45"/>
<line x1="152.9" y1="610" x2="152.9" y2="620.1" stroke="#858585" stroke-width="1.0" stroke-dasharray="1.58,0.43"/>
<line x1="154.8" y1="610" x2="154.8" y2="623.5" stroke="#858585" stroke-width="1.0" stroke-dasharray="1.89,0.29"/>
<line x1="157.1" y1="610" x2="157.1" y2="623.5" stroke="#858585" stroke-width="1.0" stroke-dasharray="1.83,0.40"/>
<line x1="159.6" y1="610" x2="159.6" y2="620.9" stroke="#858585" stroke-width="1.0" stroke-dasharray="1.73,0.42"/>
<line x1="161.7" y1="610" x2="161.7" y2="620.0" stroke="#858585" stroke-width="1.0" stroke-dasharray="1.72,0.37"/>
<line x1="163.5" y1="610" x2="163.5" y2="616.8" stroke="#858585" stroke-width="1.0" stroke-dasharray="1.43,0.35"/>
<line x1="166.0" y1="610" x2="166.0" y2="616.9" stroke="#858585" stroke-width="1.0" stroke-dasharray="1.48,0.42"/>
<line x1="168.6" y1="610" x2="168.6" y2="625.7" stroke="#858585" stroke-width="1.0" stroke-dasharray="1.31,0.45"/>
<line x1="170.6" y1="610" x2="170.6" y2="615.1" stroke="#858585" stroke-width="1.0" stroke-dasharray="1.78,0.40"/>
<line x1="172.6" y1="610" x2="172.6" y2="619.1" stroke="#858585" stroke-width="1.0" stroke-dasharray="1.44,0.36"/>
<line x1="175.3" y1="610" x2="175.3" y2="644.5" stroke="#858585" stroke-width="1.0" stroke-dasharray="1.55,0.38"/>
<line x1="177.3" y1="610" x2="177.3" y2="646.5" stroke="#858585" stroke-width="1.0" stroke-dasharray="1.98,0.28"/>
<line x1="180.0" y1="610" x2="180.0" y2="621.9" stroke="#858585" stroke-width="1.0" stroke-dasharray="1.23,0.34"/>
<line x1="182.2" y1="610" x2="182.2" y2="619.1" stroke="#858585" stroke-width="1.0" stroke-dasharray="1.20,0.33"/>
<line x1="184.2" y1="610" x2="184.2" y2="632.5" stroke="#858585" stroke-width="1.0" stroke-dasharray="1.97,0.36"/>
<line x1="186.3" y1="610" x2="186.3" y2="618.6" stroke="#858585" stroke-width="1.0" stroke-dasharray="1.97,0.41"/>
<line x1="188.6" y1="610" x2="188.6" y2="617.2" stroke="#858585" stroke-width="1.0" stroke-dasharray="1.33,0.33"/>
<line x1="190.8" y1="610" x2="190.8" y2="621.5" stroke="#858585" stroke-width="1.0" stroke-dasharray="1.20,0.27"/>
<line x1="193.2" y1="610" x2="193.2" y2="623.0" stroke="#858585" stroke-width="1.0" stroke-dasharray="1.50,0.34"/>
<line x1="195.2" y1="610" x2="195.2" y2="614.8" stroke="#858585" stroke-width="1.0" stroke-dasharray="1.68,0.30"/>
<line x1="198.0" y1="610" x2="198.0" y2="617.9" stroke="#858585" stroke-width="1.0" stroke-dasharray="1.59,0.31"/>
<line x1="200.3" y1="610" x2="200.3" y2="641.5" stroke="#858585" stroke-width="1.0" stroke-dasharray="1.23,0.28"/>
<line x1="202.5" y1="610" x2="202.5" y2="618.9" stroke="#858585" stroke-width="1.0" stroke-dasharray="1.83,0.30"/>
<line x1="204.5" y1="610" x2="204.5" y2="632.5" stroke="#858585" stroke-width="1.0" stroke-dasharray="1.99,0.35"/>
<line x1="207.2" y1="610" x2="207.2" y2="617.5" stroke="#858585" stroke-width="1.0" stroke-dasharray="1.44,0.36"/>
<line x1="209.3" y1="610" x2="209.3" y2="618.7" stroke="#858585" stroke-width="1.0" stroke-dasharray="1.75,0.41"/>
<line x1="211.3" y1="610" x2="211.3" y2="613.5" stroke="#858585" stroke-width="1.0" stroke-dasharray="1.91,0.36"/>
<line x1="213.1" y1="610" x2="213.1" y2="622.6" stroke="#858585" stroke-width="1.0" stroke-dasharray="1.96,0.38"/>
<line x1="215.7" y1="610" x2="215.7" y2="623.5" stroke="#858585" stroke-width="1.0" stroke-dasharray="1.36,0.31"/>
<line x1="218.4" y1="610" x2="218.4" y2="620.9" stroke="#858585" stroke-width="1.0" stroke-dasharray="1.67,0.38"/>
<line x1="220.6" y1="610" x2="220.6" y2="616.2" stroke="#858585" stroke-width="1.0" stroke-dasharray="1.98,0.36"/>
<line x1="222.9" y1="610" x2="222.9" y2="615.3" stroke="#858585" stroke-width="1.0" stroke-dasharray="1.86,0.41"/>
<line x1="225.3" y1="610" x2="225.3" y2="620.1" stroke="#858585" stroke-width="1.0" stroke-dasharray="1.76,0.26"/>
<line x1="228.0" y1="610" x2="228.0" y2="632.5" stroke="#858585" stroke-width="1.0" stroke-dasharray="1.92,0.45"/>
<line x1="230.5" y1="610" x2="230.5" y2="615.5" stroke="#858585" stroke-width="1.0" stroke-dasharray="1.25,0.29"/>
<line x1="232.8" y1="610" x2="232.8" y2="620.2" stroke="#858585" stroke-width="1.0" stroke-dasharray="1.66,0.40"/>
<line x1="235.5" y1="610" x2="235.5" y2="620.5" stroke="#858585" stroke-width="1.0" stroke-dasharray="1.59,0.32"/>
<line x1="238.0" y1="610" x2="238.0" y2="620.4" stroke="#858585" stroke-width="1.0" stroke-dasharray="1.71,0.35"/>
<line x1="240.7" y1="610" x2="240.7" y2="620.1" stroke="#858585" stroke-width="1.0" stroke-dasharray="1.39,0.42"/>
<line x1="242.8" y1="610" x2="242.8" y2="620.7" stroke="#858585" stroke-width="1.0" stroke-dasharray="1.79,0.29"/>
<line x1="245.3" y1="610" x2="245.3" y2="616.4" stroke="#858585" stroke-width="1.0" stroke-dasharray="1.89,0.35"/>
<line x1="247.5" y1="610" x2="247.5" y2="615.3" stroke="#858585" stroke-width="1.0" stroke-dasharray="1.84,0.26"/>
<line x1="250.1" y1="610" x2="250.1" y2="625.6" stroke="#858585" stroke-width="1.0" stroke-dasharray="1.84,0.40"/>
<line x1="251.9" y1="610" x2="251.9" y2="619.7" stroke="#858585" stroke-width="1.0" stroke-dasharray="1.70,0.32"/>
<line x1="254.0" y1="610" x2="254.0" y2="619.3" stroke="#858585" stroke-width="1.0" stroke-dasharray="1.50,0.39"/>
<line x1="256.1" y1="610" x2="256.1" y2="632.5" stroke="#858585" stroke-width="1.0" stroke-dasharray="1.61,0.37"/>
<line x1="258.5" y1="610" x2="258.5" y2="616.8" stroke="#858585" stroke-width="1.0" stroke-dasharray="1.35,0.29"/>
<line x1="260.8" y1="610" x2="260.8" y2="619.6" stroke="#858585" stroke-width="1.0" stroke-dasharray="1.58,0.43"/>
<line x1="263.2" y1="610" x2="263.2" y2="615.4" stroke="#858585" stroke-width="1.0" stroke-dasharray="1.72,0.26"/>
<line x1="265.9" y1="610" x2="265.9" y2="617.4" stroke="#858585" stroke-width="1.0" stroke-dasharray="1.42,0.28"/>
<line x1="268.0" y1="610" x2="268.0" y2="630.5" stroke="#858585" stroke-width="1.0" stroke-dasharray="1.45,0.26"/>
<line x1="269.8" y1="610" x2="269.8" y2="619.2" stroke="#858585" stroke-width="1.0" stroke-dasharray="1.46,0.34"/>
<line x1="271.8" y1="610" x2="271.8" y2="623.7" stroke="#858585" stroke-width="1.0" stroke-dasharray="1.38,0.27"/>
<line x1="274.0" y1="610" x2="274.0" y2="626.5" stroke="#858585" stroke-width="1.0" stroke-dasharray="1.49,0.26"/>
<line x1="276.8" y1="610" x2="276.8" y2="615.6" stroke="#858585" stroke-width="1.0" stroke-dasharray="1.95,0.38"/>
<line x1="279.1" y1="610" x2="279.1" y2="618.5" stroke="#858585" stroke-width="1.0" stroke-dasharray="1.53,0.26"/>
<line x1="281.4" y1="610" x2="281.4" y2="618.0" stroke="#858585" stroke-width="1.0" stroke-dasharray="1.77,0.30"/>
<line x1="284.0" y1="610" x2="284.0" y2="623.5" stroke="#858585" stroke-width="1.0" stroke-dasharray="1.24,0.33"/>
<line x1="285.9" y1="610" x2="285.9" y2="624.5" stroke="#858585" stroke-width="1.0" stroke-dasharray="1.90,0.44"/>
<line x1="287.9" y1="610" x2="287.9" y2="624.5" stroke="#858585" stroke-width="1.0" stroke-dasharray="1.27,0.31"/>
<line x1="289.8" y1="610" x2="289.8" y2="622.8" stroke="#858585" stroke-width="1.0" stroke-dasharray="1.37,0.25"/>
<line x1="292.1" y1="610" x2="292.1" y2="621.0" stroke="#858585" stroke-width="1.0" stroke-dasharray="1.31,0.25"/>
<line x1="294.7" y1="610" x2="294.7" y2="626.0" stroke="#858585" stroke-width="1.0" stroke-dasharray="1.29,0.31"/>
<line x1="296.6" y1="610" x2="296.6" y2="617.0" stroke="#858585" stroke-width="1.0" stroke-dasharray="1.63,0.34"/>
<line x1="299.1" y1="610" x2="299.1" y2="621.8" stroke="#858585" stroke-width="1.0" stroke-dasharray="1.25,0.39"/>
<line x1="300.9" y1="610" x2="300.9" y2="636.5" stroke="#858585" stroke-width="1.0" stroke-dasharray="1.26,0.40"/>
<line x1="303.1" y1="610" x2="303.1" y2="617.0" stroke="#858585" stroke-width="1.0" stroke-dasharray="1.66,0.34"/>
<line x1="305.7" y1="610" x2="305.7" y2="623.8" stroke="#858585" stroke-width="1.0" stroke-dasharray="1.54,0.27"/>
<line x1="308.3" y1="610" x2="308.3" y2="616.0" stroke="#858585" stroke-width="1.0" stroke-dasharray="1.41,0.39"/>
<line x1="310.4" y1="610" x2="310.4" y2="613.8" stroke="#858585" stroke-width="1.0" stroke-dasharray="1.30,0.44"/>
<line x1="313.0" y1="610" x2="313.0" y2="615.5" stroke="#858585" stroke-width="1.0" stroke-dasharray="1.38,0.34"/>
<line x1="315.2" y1="610" x2="315.2" y2="615.0" stroke="#858585" stroke-width="1.0" stroke-dasharray="1.78,0.27"/>
<line x1="107.6" y1="477.4" x2="139" y2="477.4" stroke="#222" stroke-width="0.8"/>
<path d="M106.6,477.4 L108.6,476.5 L108.6,478.29999999999995 Z M140,477.4 L138,476.5 L138,478.29999999999995 Z" fill="#222"/>
<text x="123.3" y="475.1" font-size="5.0" font-weight="normal" text-anchor="middle" fill="#222" stroke="#222" stroke-width="0.12" >5 Mb</text>
<line x1="107.6" y1="513.4" x2="139" y2="513.4" stroke="#222" stroke-width="0.8"/>
<path d="M106.6,513.4 L108.6,512.5 L108.6,514.3 Z M140,513.4 L138,512.5 L138,514.3 Z" fill="#222"/>
<text x="123.3" y="511.4" font-size="5.0" font-weight="normal" text-anchor="middle" fill="#222" stroke="#222" stroke-width="0.12" >5 Mb</text>
<line x1="128.9" y1="550.3" x2="139" y2="550.3" stroke="#222" stroke-width="0.8"/>
<path d="M127.9,550.3 L129.9,549.4 L129.9,551.1999999999999 Z M140,550.3 L138,549.4 L138,551.1999999999999 Z" fill="#222"/>
<text x="133.54999999999998" y="547.5" font-size="5.5" font-weight="normal" text-anchor="middle" fill="#222" stroke="#222" stroke-width="0.12" >43 kb</text>
<line x1="128.9" y1="586.4" x2="139" y2="586.4" stroke="#222" stroke-width="0.8"/>
<path d="M127.9,586.4 L129.9,585.5 L129.9,587.3 Z M140,586.4 L138,585.5 L138,587.3 Z" fill="#222"/>
<text x="133.54999999999998" y="583.2" font-size="5.5" font-weight="normal" text-anchor="middle" fill="#222" stroke="#222" stroke-width="0.12" >43 kb</text>
<text transform="translate(105.3,428) rotate(-90)" font-size="2.4" text-anchor="middle" fill="#aaa">Ploidy</text>
<text x="33.2" y="451.4" font-size="6.5" font-weight="bold" text-anchor="middle" fill="#222" stroke="#222" stroke-width="0.12" >Edited cells</text>
<text x="34.2" y="459.5" font-size="6.5" font-weight="bold" text-anchor="middle" fill="#222" stroke="#222" stroke-width="0.12" >without LOH</text>
<text x="80" y="455.4" font-size="7" font-weight="bold" text-anchor="middle" fill="#222" stroke="#222" stroke-width="0.12" >2</text>
<text x="34.3" y="488.3" font-size="6.6" font-weight="bold" text-anchor="middle" fill="#e0607e" stroke="#e0607e" stroke-width="0.12" >LOH11pI</text>
<text x="34.3" y="495.9" font-size="6.6" font-weight="bold" text-anchor="middle" fill="#e0607e" stroke="#e0607e" stroke-width="0.12" >cells</text>
<text x="80.5" y="492" font-size="7.1" font-weight="bold" text-anchor="middle" fill="#e0607e" stroke="#e0607e" stroke-width="0.12" >1.25</text>
<text x="34.3" y="523.1" font-size="6.6" font-weight="bold" text-anchor="middle" fill="#2a78b0" stroke="#2a78b0" stroke-width="0.12" >LOH11pII</text>
<text x="34.3" y="530.9" font-size="6.6" font-weight="bold" text-anchor="middle" fill="#2a78b0" stroke="#2a78b0" stroke-width="0.12" >cells</text>
<text x="80.5" y="527.5" font-size="7.1" font-weight="bold" text-anchor="middle" fill="#2a78b0" stroke="#2a78b0" stroke-width="0.12" >1.18</text>
<text x="34.3" y="559.9" font-size="6.6" font-weight="bold" text-anchor="middle" fill="#f08ac0" stroke="#f08ac0" stroke-width="0.12" >iLOH11pI</text>
<text x="34.3" y="567.6" font-size="6.6" font-weight="bold" text-anchor="middle" fill="#f08ac0" stroke="#f08ac0" stroke-width="0.12" >cells</text>
<text x="80.5" y="563.6" font-size="7.1" font-weight="bold" text-anchor="middle" fill="#f08ac0" stroke="#f08ac0" stroke-width="0.12" >1.44</text>
<text x="34.3" y="595.3" font-size="6.6" font-weight="bold" text-anchor="middle" fill="#6aa0ee" stroke="#6aa0ee" stroke-width="0.12" >iLOH11pII</text>
<text x="34.3" y="602.9" font-size="6.6" font-weight="bold" text-anchor="middle" fill="#6aa0ee" stroke="#6aa0ee" stroke-width="0.12" >cells</text>
<text x="80.5" y="599" font-size="7.1" font-weight="bold" text-anchor="middle" fill="#6aa0ee" stroke="#6aa0ee" stroke-width="0.12" >1.21</text>
<text x="34" y="665.5" font-size="6.5" font-weight="bold" text-anchor="middle" fill="#222" stroke="#222" stroke-width="0.12" >Non-targeted</text>
<text x="34" y="673.8" font-size="6.5" font-weight="bold" text-anchor="middle" fill="#222" stroke="#222" stroke-width="0.12" >Chr10</text>
<text x="80.2" y="669.1" font-size="7.1" font-weight="bold" text-anchor="middle" fill="#222" stroke="#222" stroke-width="0.12" >2.05</text>
<line x1="10.6" y1="477.3" x2="10.6" y2="537" stroke="#333" stroke-width="0.7" />
<line x1="10.6" y1="548" x2="10.6" y2="608.6" stroke="#333" stroke-width="0.7" />
<text transform="translate(7.4,507) rotate(-90)" font-size="6.5" font-weight="bold" text-anchor="middle" fill="#222">Terminal LOH</text>
<text transform="translate(7.6,578.3) rotate(-90)" font-size="6.5" font-weight="bold" text-anchor="middle" fill="#222">Interstitial LOH</text>
<text x="329.7" y="394.9" font-size="15" font-weight="bold" text-anchor="start" fill="#111" stroke="#111" stroke-width="0.12" >h</text>
<rect x="346.3" y="380.9" width="338.7" height="17.1" fill="#eceff4" />
<text x="515.2" y="393.3" font-size="9.1" font-weight="normal" text-anchor="middle" fill="#1c1c1c" stroke="#1c1c1c" stroke-width="0.12" >Kilobasic SNP panel</text>
<rect x="324.4" y="408" width="360.6" height="19" fill="#eef0f5" />
<line x1="324.4" y1="509" x2="685" y2="509" stroke="#e8e8e8" stroke-width="0.8" />
<text x="340" y="419.7" font-size="6.2" font-weight="bold" text-anchor="middle" fill="#222" stroke="#222" stroke-width="0.12" >Legend</text>
<text x="398.4" y="419.7" font-size="6.2" font-weight="bold" text-anchor="middle" fill="#222" stroke="#222" stroke-width="0.12" >Hg19 Genomic Position</text>
<text x="462.3" y="419.9" font-size="6.2" font-weight="bold" text-anchor="middle" fill="#222" stroke="#222" stroke-width="0.12" >SNP rs</text>
<text x="499.3" y="416.1" font-size="6.2" font-weight="bold" text-anchor="middle" fill="#222" stroke="#222" stroke-width="0.12" >Distance</text>
<text x="499.3" y="423.7" font-size="6.2" font-weight="bold" text-anchor="middle" fill="#222" stroke="#222" stroke-width="0.12" >to DSB</text>
<text x="531.95" y="419.9" font-size="6.2" font-weight="bold" text-anchor="middle" fill="#222" stroke="#222" stroke-width="0.12" >WT</text>
<text x="566.1" y="416.1" font-size="6.2" font-weight="bold" text-anchor="middle" fill="#222" stroke="#222" stroke-width="0.12" >LOH</text>
<text x="566.1" y="423.7" font-size="6.2" font-weight="bold" text-anchor="middle" fill="#222" stroke="#222" stroke-width="0.12" >11pI</text>
<text x="599.7" y="416.1" font-size="6.2" font-weight="bold" text-anchor="middle" fill="#222" stroke="#222" stroke-width="0.12" >LOH</text>
<text x="599.7" y="423.7" font-size="6.2" font-weight="bold" text-anchor="middle" fill="#222" stroke="#222" stroke-width="0.12" >11pII</text>
<text x="633.75" y="416.1" font-size="6.2" font-weight="bold" text-anchor="middle" fill="#222" stroke="#222" stroke-width="0.12" >iLOH</text>
<text x="633.75" y="423.7" font-size="6.2" font-weight="bold" text-anchor="middle" fill="#222" stroke="#222" stroke-width="0.12" >11pI</text>
<text x="667.75" y="416.1" font-size="6.2" font-weight="bold" text-anchor="middle" fill="#222" stroke="#222" stroke-width="0.12" >iLOH</text>
<text x="667.75" y="423.7" font-size="6.2" font-weight="bold" text-anchor="middle" fill="#222" stroke="#222" stroke-width="0.12" >11pII</text>
<rect x="515.5" y="427" width="32.89999999999998" height="81.5" fill="url(#gc)" />
<rect x="549.7" y="427" width="32.799999999999955" height="32.60000000000002" fill="url(#gc)" />
<rect x="549.7" y="460.6" width="32.799999999999955" height="47.89999999999998" fill="#ea8a9c" />
<rect x="583.3" y="427" width="32.80000000000007" height="32.60000000000002" fill="url(#gc)" />
<rect x="583.3" y="460.6" width="32.80000000000007" height="47.89999999999998" fill="#4f94b9" />
<rect x="617.2" y="427" width="33.09999999999991" height="32.60000000000002" fill="url(#gh)" />
<rect x="617.2" y="460.6" width="33.09999999999991" height="31.599999999999966" fill="#f8b2d4" />
<rect x="617.2" y="493.2" width="33.09999999999991" height="15.300000000000011" fill="url(#gh)" />
<rect x="651.3" y="427" width="32.90000000000009" height="32.60000000000002" fill="url(#gh)" />
<rect x="651.3" y="460.6" width="32.90000000000009" height="31.599999999999966" fill="#a9cdf6" />
<rect x="651.3" y="493.2" width="32.90000000000009" height="15.300000000000011" fill="url(#gh)" />
<text x="340" y="437.35" font-size="6.4" font-weight="bold" text-anchor="middle" fill="#222" stroke="#222" stroke-width="0.12" >1</text>
<text x="398.4" y="437.35" font-size="6.35" font-weight="normal" text-anchor="middle" fill="#333" stroke="#333" stroke-width="0.12" >MS4A3:chr11:59830103:A/G</text>
<text x="462.3" y="437.35" font-size="6.4" font-weight="normal" text-anchor="middle" fill="#333" stroke="#333" stroke-width="0.12" >rs481950</text>
<text x="499.3" y="437.35" font-size="6.4" font-weight="normal" text-anchor="middle" fill="#333" stroke="#333" stroke-width="0.12" >54 Mb</text>
<text x="531.95" y="437.35" font-size="6.4" font-weight="normal" text-anchor="middle" fill="#2a2030" stroke="#2a2030" stroke-width="0.12" >Htz (A/G)</text>
<text x="566.1" y="437.35" font-size="6.4" font-weight="normal" text-anchor="middle" fill="#2a2030" stroke="#2a2030" stroke-width="0.12" >Htz (A/G)</text>
<text x="599.7" y="437.35" font-size="6.4" font-weight="normal" text-anchor="middle" fill="#2a2030" stroke="#2a2030" stroke-width="0.12" >Htz (A/G)</text>
<text x="633.75" y="437.35" font-size="6.4" font-weight="normal" text-anchor="middle" fill="#2a2030" stroke="#2a2030" stroke-width="0.12" >Htz (A/G)</text>
<text x="667.75" y="437.35" font-size="6.4" font-weight="normal" text-anchor="middle" fill="#2a2030" stroke="#2a2030" stroke-width="0.12" >Htz (A/G)</text>
<text x="340" y="454.25" font-size="6.4" font-weight="bold" text-anchor="middle" fill="#222" stroke="#222" stroke-width="0.12" >2</text>
<text x="398.4" y="454.25" font-size="6.35" font-weight="normal" text-anchor="middle" fill="#333" stroke="#333" stroke-width="0.12" >PDE3B:chr11:14807375:T/G</text>
<text x="462.3" y="454.25" font-size="6.4" font-weight="normal" text-anchor="middle" fill="#333" stroke="#333" stroke-width="0.12" >rs2122942</text>
<text x="499.3" y="454.25" font-size="6.4" font-weight="normal" text-anchor="middle" fill="#333" stroke="#333" stroke-width="0.12" >9.5 Mb</text>
<text x="531.95" y="454.25" font-size="6.4" font-weight="normal" text-anchor="middle" fill="#2a2030" stroke="#2a2030" stroke-width="0.12" >Htz (A/G)</text>
<text x="566.1" y="454.25" font-size="6.4" font-weight="normal" text-anchor="middle" fill="#2a2030" stroke="#2a2030" stroke-width="0.12" >Htz (A/G)</text>
<text x="599.7" y="454.25" font-size="6.4" font-weight="normal" text-anchor="middle" fill="#2a2030" stroke="#2a2030" stroke-width="0.12" >Htz (A/G)</text>
<text x="633.75" y="454.25" font-size="6.4" font-weight="normal" text-anchor="middle" fill="#2a2030" stroke="#2a2030" stroke-width="0.12" >Htz (A/G)</text>
<text x="667.75" y="454.25" font-size="6.4" font-weight="normal" text-anchor="middle" fill="#2a2030" stroke="#2a2030" stroke-width="0.12" >Htz (A/G)</text>
<text x="340" y="470.55" font-size="6.4" font-weight="bold" text-anchor="middle" fill="#222" stroke="#222" stroke-width="0.12" >6</text>
<text x="398.4" y="470.55" font-size="6.35" font-weight="normal" text-anchor="middle" fill="#333" stroke="#333" stroke-width="0.12" >chr11:5258741:A/G</text>
<text x="462.3" y="470.55" font-size="6.4" font-weight="normal" text-anchor="middle" fill="#333" stroke="#333" stroke-width="0.12" >rs16912026</text>
<text x="499.3" y="470.55" font-size="6.4" font-weight="normal" text-anchor="middle" fill="#333" stroke="#333" stroke-width="0.12" >12 kb</text>
<text x="531.95" y="470.55" font-size="6.4" font-weight="normal" text-anchor="middle" fill="#2a2030" stroke="#2a2030" stroke-width="0.12" >Htz (A/G)</text>
<text x="566.1" y="470.55" font-size="6.4" font-weight="normal" text-anchor="middle" fill="#2a2030" stroke="#2a2030" stroke-width="0.12" >Hmz (A)</text>
<text x="599.7" y="470.55" font-size="6.4" font-weight="normal" text-anchor="middle" fill="#2a2030" stroke="#2a2030" stroke-width="0.12" >Hmz (G)</text>
<text x="633.75" y="470.55" font-size="6.4" font-weight="normal" text-anchor="middle" fill="#2a2030" stroke="#2a2030" stroke-width="0.12" >Hmz (A)</text>
<text x="667.75" y="470.55" font-size="6.4" font-weight="normal" text-anchor="middle" fill="#2a2030" stroke="#2a2030" stroke-width="0.12" >Hmz (G)</text>
<text x="340" y="487.05" font-size="6.4" font-weight="bold" text-anchor="middle" fill="#222" stroke="#222" stroke-width="0.12" >7</text>
<text x="398.4" y="487.05" font-size="6.35" font-weight="normal" text-anchor="middle" fill="#333" stroke="#333" stroke-width="0.12" >chr11:5257778:G/A</text>
<text x="462.3" y="487.05" font-size="6.4" font-weight="normal" text-anchor="middle" fill="#333" stroke="#333" stroke-width="0.12" >rs3759074</text>
<text x="499.3" y="487.05" font-size="6.4" font-weight="normal" text-anchor="middle" fill="#333" stroke="#333" stroke-width="0.12" >13.6 kb</text>
<text x="531.95" y="487.05" font-size="6.4" font-weight="normal" text-anchor="middle" fill="#2a2030" stroke="#2a2030" stroke-width="0.12" >Htz (G/A)</text>
<text x="566.1" y="487.05" font-size="6.4" font-weight="normal" text-anchor="middle" fill="#2a2030" stroke="#2a2030" stroke-width="0.12" >Hmz (G)</text>
<text x="599.7" y="487.05" font-size="6.4" font-weight="normal" text-anchor="middle" fill="#2a2030" stroke="#2a2030" stroke-width="0.12" >Hmz (A)</text>
<text x="633.75" y="487.05" font-size="6.4" font-weight="normal" text-anchor="middle" fill="#2a2030" stroke="#2a2030" stroke-width="0.12" >Hmz (G)</text>
<text x="667.75" y="487.05" font-size="6.4" font-weight="normal" text-anchor="middle" fill="#2a2030" stroke="#2a2030" stroke-width="0.12" >Hmz (A)</text>
<text x="340" y="503.65" font-size="6.4" font-weight="bold" text-anchor="middle" fill="#222" stroke="#222" stroke-width="0.12" >5</text>
<text x="398.4" y="503.65" font-size="6.35" font-weight="normal" text-anchor="middle" fill="#333" stroke="#333" stroke-width="0.12" >DEAF:chr11:683443:T/C</text>
<text x="462.3" y="503.65" font-size="6.4" font-weight="normal" text-anchor="middle" fill="#333" stroke="#333" stroke-width="0.12" >rs9666056</text>
<text x="499.3" y="503.65" font-size="6.4" font-weight="normal" text-anchor="middle" fill="#333" stroke="#333" stroke-width="0.12" >4.6 Mb</text>
<text x="531.95" y="503.65" font-size="6.4" font-weight="normal" text-anchor="middle" fill="#2a2030" stroke="#2a2030" stroke-width="0.12" >Htz (T/C)</text>
<text x="566.1" y="503.65" font-size="6.4" font-weight="normal" text-anchor="middle" fill="#2a2030" stroke="#2a2030" stroke-width="0.12" >Hmz (C)</text>
<text x="599.7" y="503.65" font-size="6.4" font-weight="normal" text-anchor="middle" fill="#2a2030" stroke="#2a2030" stroke-width="0.12" >Hmz (T)</text>
<text x="633.75" y="503.65" font-size="6.4" font-weight="normal" text-anchor="middle" fill="#2a2030" stroke="#2a2030" stroke-width="0.12" >Htz (T/C)</text>
<text x="667.75" y="503.65" font-size="6.4" font-weight="normal" text-anchor="middle" fill="#2a2030" stroke="#2a2030" stroke-width="0.12" >Htz (T/C)</text></svg></body></html>
